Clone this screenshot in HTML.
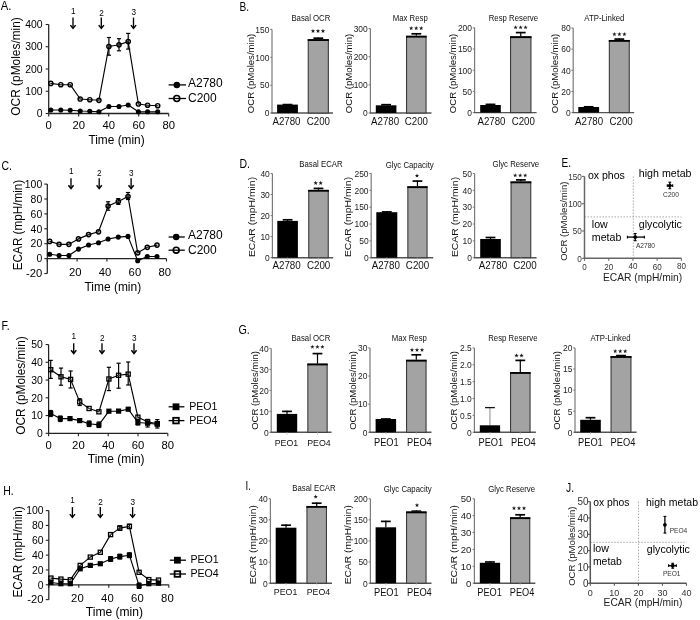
<!DOCTYPE html><html><head><meta charset="utf-8"><style>html,body{margin:0;padding:0;background:#fff;}svg{display:block;filter:blur(0.3px);font-family:"Liberation Sans",sans-serif;}</style></head><body>
<svg width="700" height="620" viewBox="0 0 700 620">
<rect width="700" height="620" fill="#fff"/>
<text x="0.8" y="9.6" font-size="12.2" text-anchor="start" fill="#000" textLength="10.6" lengthAdjust="spacingAndGlyphs">A.</text>
<line x1="48.7" y1="24.5" x2="48.7" y2="113.5" stroke="#222" stroke-width="1.25"/>
<line x1="45.7" y1="113.5" x2="48.7" y2="113.5" stroke="#222" stroke-width="1.1"/>
<text x="42.6" y="117.24" font-size="10.4" text-anchor="end" fill="#000" textLength="5.78" lengthAdjust="spacingAndGlyphs">0</text>
<line x1="45.7" y1="91.25" x2="48.7" y2="91.25" stroke="#222" stroke-width="1.1"/>
<text x="42.6" y="94.99" font-size="10.4" text-anchor="end" fill="#000" textLength="17.35" lengthAdjust="spacingAndGlyphs">100</text>
<line x1="45.7" y1="69" x2="48.7" y2="69" stroke="#222" stroke-width="1.1"/>
<text x="42.6" y="72.74" font-size="10.4" text-anchor="end" fill="#000" textLength="17.35" lengthAdjust="spacingAndGlyphs">200</text>
<line x1="45.7" y1="46.75" x2="48.7" y2="46.75" stroke="#222" stroke-width="1.1"/>
<text x="42.6" y="50.49" font-size="10.4" text-anchor="end" fill="#000" textLength="17.35" lengthAdjust="spacingAndGlyphs">300</text>
<line x1="45.7" y1="24.5" x2="48.7" y2="24.5" stroke="#222" stroke-width="1.1"/>
<text x="42.6" y="28.24" font-size="10.4" text-anchor="end" fill="#000" textLength="17.35" lengthAdjust="spacingAndGlyphs">400</text>
<line x1="48.7" y1="113.5" x2="168.7" y2="113.5" stroke="#222" stroke-width="1.3"/>
<line x1="48.7" y1="113.5" x2="48.7" y2="116.5" stroke="#222" stroke-width="1.1"/>
<text x="48.7" y="129.37" font-size="11.3" text-anchor="middle" fill="#000" textLength="6.28" lengthAdjust="spacingAndGlyphs">0</text>
<line x1="78.7" y1="113.5" x2="78.7" y2="116.5" stroke="#222" stroke-width="1.1"/>
<text x="78.7" y="129.37" font-size="11.3" text-anchor="middle" fill="#000" textLength="12.57" lengthAdjust="spacingAndGlyphs">20</text>
<line x1="108.7" y1="113.5" x2="108.7" y2="116.5" stroke="#222" stroke-width="1.1"/>
<text x="108.7" y="129.37" font-size="11.3" text-anchor="middle" fill="#000" textLength="12.57" lengthAdjust="spacingAndGlyphs">40</text>
<line x1="138.7" y1="113.5" x2="138.7" y2="116.5" stroke="#222" stroke-width="1.1"/>
<text x="138.7" y="129.37" font-size="11.3" text-anchor="middle" fill="#000" textLength="12.57" lengthAdjust="spacingAndGlyphs">60</text>
<line x1="168.7" y1="113.5" x2="168.7" y2="116.5" stroke="#222" stroke-width="1.1"/>
<text x="168.7" y="129.37" font-size="11.3" text-anchor="middle" fill="#000" textLength="12.57" lengthAdjust="spacingAndGlyphs">80</text>
<text x="88.4" y="143.7" font-size="12" text-anchor="start" fill="#000" textLength="56.3" lengthAdjust="spacingAndGlyphs">Time (min)</text>
<text transform="translate(15.5 66.4) rotate(-90)" x="0" y="4.32" font-size="12" text-anchor="middle" fill="#000" textLength="98.5" lengthAdjust="spacingAndGlyphs">OCR (pMoles/min)</text>
<text x="73.2" y="13.75" font-size="8.2" text-anchor="middle" fill="#000">1</text>
<line x1="73" y1="17.6" x2="73" y2="27.5" stroke="#000" stroke-width="1.35"/>
<path d="M70.4 25.1 L73 28.4 L75.6 25.1" fill="none" stroke="#000" stroke-width="1.45" stroke-linejoin="miter"/>
<text x="101.5" y="15.65" font-size="8.2" text-anchor="middle" fill="#000">2</text>
<line x1="101.3" y1="17.6" x2="101.3" y2="27.5" stroke="#000" stroke-width="1.35"/>
<path d="M98.7 25.1 L101.3 28.4 L103.9 25.1" fill="none" stroke="#000" stroke-width="1.45" stroke-linejoin="miter"/>
<text x="133.7" y="15.35" font-size="8.2" text-anchor="middle" fill="#000">3</text>
<line x1="133.5" y1="17.6" x2="133.5" y2="27.5" stroke="#000" stroke-width="1.35"/>
<path d="M130.9 25.1 L133.5 28.4 L136.1 25.1" fill="none" stroke="#000" stroke-width="1.45" stroke-linejoin="miter"/>
<polyline points="50.8,83.4 60.8,84.7 70.2,84.7 80.2,99 89.8,99.7 98.9,100.3 108.9,46.5 119,44.8 128.2,41.6 138.4,104 147.6,105.2 157.7,105.7" fill="none" stroke="#000" stroke-width="1.15" stroke-linejoin="round"/>
<line x1="108.9" y1="37.5" x2="108.9" y2="55.2" stroke="#000" stroke-width="1.2"/>
<line x1="106.8" y1="37.5" x2="111" y2="37.5" stroke="#000" stroke-width="1.2"/>
<line x1="106.8" y1="55.2" x2="111" y2="55.2" stroke="#000" stroke-width="1.2"/>
<line x1="119" y1="38.7" x2="119" y2="50.8" stroke="#000" stroke-width="1.2"/>
<line x1="116.9" y1="38.7" x2="121.1" y2="38.7" stroke="#000" stroke-width="1.2"/>
<line x1="116.9" y1="50.8" x2="121.1" y2="50.8" stroke="#000" stroke-width="1.2"/>
<line x1="128.2" y1="33.4" x2="128.2" y2="49.1" stroke="#000" stroke-width="1.2"/>
<line x1="126.1" y1="33.4" x2="130.3" y2="33.4" stroke="#000" stroke-width="1.2"/>
<line x1="126.1" y1="49.1" x2="130.3" y2="49.1" stroke="#000" stroke-width="1.2"/>
<polyline points="50.8,110 60.8,110 70.2,110.2 80.2,111 89.8,111.3 98.9,111.8 108.9,106.5 119,106.5 128.2,105 138.4,111.8 147.6,111.8 157.7,111.8" fill="none" stroke="#000" stroke-width="1.15" stroke-linejoin="round"/>
<circle cx="50.8" cy="83.4" r="2.1" fill="none" stroke="#000" stroke-width="1.45"/>
<line x1="49.9" y1="83.4" x2="51.7" y2="83.4" stroke="#444" stroke-width="0.9"/>
<circle cx="60.8" cy="84.7" r="2.1" fill="none" stroke="#000" stroke-width="1.45"/>
<line x1="59.9" y1="84.7" x2="61.7" y2="84.7" stroke="#444" stroke-width="0.9"/>
<circle cx="70.2" cy="84.7" r="2.1" fill="none" stroke="#000" stroke-width="1.45"/>
<line x1="69.3" y1="84.7" x2="71.1" y2="84.7" stroke="#444" stroke-width="0.9"/>
<circle cx="80.2" cy="99" r="2.1" fill="none" stroke="#000" stroke-width="1.45"/>
<line x1="79.3" y1="99" x2="81.1" y2="99" stroke="#444" stroke-width="0.9"/>
<circle cx="89.8" cy="99.7" r="2.1" fill="none" stroke="#000" stroke-width="1.45"/>
<line x1="88.9" y1="99.7" x2="90.7" y2="99.7" stroke="#444" stroke-width="0.9"/>
<circle cx="98.9" cy="100.3" r="2.1" fill="none" stroke="#000" stroke-width="1.45"/>
<line x1="98" y1="100.3" x2="99.8" y2="100.3" stroke="#444" stroke-width="0.9"/>
<circle cx="108.9" cy="46.5" r="2.1" fill="none" stroke="#000" stroke-width="1.45"/>
<line x1="108" y1="46.5" x2="109.8" y2="46.5" stroke="#444" stroke-width="0.9"/>
<circle cx="119" cy="44.8" r="2.1" fill="none" stroke="#000" stroke-width="1.45"/>
<line x1="118.1" y1="44.8" x2="119.9" y2="44.8" stroke="#444" stroke-width="0.9"/>
<circle cx="128.2" cy="41.6" r="2.1" fill="none" stroke="#000" stroke-width="1.45"/>
<line x1="127.3" y1="41.6" x2="129.1" y2="41.6" stroke="#444" stroke-width="0.9"/>
<circle cx="138.4" cy="104" r="2.1" fill="none" stroke="#000" stroke-width="1.45"/>
<line x1="137.5" y1="104" x2="139.3" y2="104" stroke="#444" stroke-width="0.9"/>
<circle cx="147.6" cy="105.2" r="2.1" fill="none" stroke="#000" stroke-width="1.45"/>
<line x1="146.7" y1="105.2" x2="148.5" y2="105.2" stroke="#444" stroke-width="0.9"/>
<circle cx="157.7" cy="105.7" r="2.1" fill="none" stroke="#000" stroke-width="1.45"/>
<line x1="156.8" y1="105.7" x2="158.6" y2="105.7" stroke="#444" stroke-width="0.9"/>
<circle cx="50.8" cy="110" r="2.55" fill="#000"/>
<circle cx="60.8" cy="110" r="2.55" fill="#000"/>
<circle cx="70.2" cy="110.2" r="2.55" fill="#000"/>
<circle cx="80.2" cy="111" r="2.55" fill="#000"/>
<circle cx="89.8" cy="111.3" r="2.55" fill="#000"/>
<circle cx="98.9" cy="111.8" r="2.55" fill="#000"/>
<circle cx="108.9" cy="106.5" r="2.55" fill="#000"/>
<circle cx="119" cy="106.5" r="2.55" fill="#000"/>
<circle cx="128.2" cy="105" r="2.55" fill="#000"/>
<circle cx="138.4" cy="111.8" r="2.55" fill="#000"/>
<circle cx="147.6" cy="111.8" r="2.55" fill="#000"/>
<circle cx="157.7" cy="111.8" r="2.55" fill="#000"/>
<line x1="168.6" y1="84.9" x2="186" y2="84.9" stroke="#000" stroke-width="1.3"/>
<circle cx="176.8" cy="84.9" r="3.25" fill="#000"/>
<line x1="168.6" y1="98.5" x2="186" y2="98.5" stroke="#000" stroke-width="1.3"/>
<circle cx="176.8" cy="98.5" r="2.95" fill="none" stroke="#000" stroke-width="1.6"/>
<text x="188" y="87.22" font-size="12" text-anchor="start" fill="#000" textLength="34.7" lengthAdjust="spacingAndGlyphs">A2780</text>
<text x="188" y="102.32" font-size="12" text-anchor="start" fill="#000" textLength="28.69" lengthAdjust="spacingAndGlyphs">C200</text>
<text x="1.5" y="169.5" font-size="12.2" text-anchor="start" fill="#000" textLength="10.5" lengthAdjust="spacingAndGlyphs">C.</text>
<line x1="47.3" y1="184.1" x2="47.3" y2="273.5" stroke="#222" stroke-width="1.25"/>
<line x1="44.3" y1="273.5" x2="47.3" y2="273.5" stroke="#222" stroke-width="1.1"/>
<text x="42.2" y="277.24" font-size="10.4" text-anchor="end" fill="#000" textLength="16.23" lengthAdjust="spacingAndGlyphs">-20</text>
<line x1="44.3" y1="258.6" x2="47.3" y2="258.6" stroke="#222" stroke-width="1.1"/>
<text x="42.2" y="262.34" font-size="10.4" text-anchor="end" fill="#000" textLength="5.78" lengthAdjust="spacingAndGlyphs">0</text>
<line x1="44.3" y1="243.7" x2="47.3" y2="243.7" stroke="#222" stroke-width="1.1"/>
<text x="42.2" y="247.44" font-size="10.4" text-anchor="end" fill="#000" textLength="11.57" lengthAdjust="spacingAndGlyphs">20</text>
<line x1="44.3" y1="228.8" x2="47.3" y2="228.8" stroke="#222" stroke-width="1.1"/>
<text x="42.2" y="232.54" font-size="10.4" text-anchor="end" fill="#000" textLength="11.57" lengthAdjust="spacingAndGlyphs">40</text>
<line x1="44.3" y1="213.9" x2="47.3" y2="213.9" stroke="#222" stroke-width="1.1"/>
<text x="42.2" y="217.64" font-size="10.4" text-anchor="end" fill="#000" textLength="11.57" lengthAdjust="spacingAndGlyphs">60</text>
<line x1="44.3" y1="199" x2="47.3" y2="199" stroke="#222" stroke-width="1.1"/>
<text x="42.2" y="202.74" font-size="10.4" text-anchor="end" fill="#000" textLength="11.57" lengthAdjust="spacingAndGlyphs">80</text>
<line x1="44.3" y1="184.1" x2="47.3" y2="184.1" stroke="#222" stroke-width="1.1"/>
<text x="42.2" y="187.84" font-size="10.4" text-anchor="end" fill="#000" textLength="17.35" lengthAdjust="spacingAndGlyphs">100</text>
<line x1="47.3" y1="258.6" x2="166.5" y2="258.6" stroke="#222" stroke-width="1.3"/>
<line x1="47.3" y1="258.6" x2="47.3" y2="261.6" stroke="#222" stroke-width="1.1"/>
<line x1="77.1" y1="258.6" x2="77.1" y2="261.6" stroke="#222" stroke-width="1.1"/>
<text x="75.3" y="276.47" font-size="11.3" text-anchor="middle" fill="#000" textLength="12.57" lengthAdjust="spacingAndGlyphs">20</text>
<line x1="106.9" y1="258.6" x2="106.9" y2="261.6" stroke="#222" stroke-width="1.1"/>
<text x="105.1" y="276.47" font-size="11.3" text-anchor="middle" fill="#000" textLength="12.57" lengthAdjust="spacingAndGlyphs">40</text>
<line x1="136.7" y1="258.6" x2="136.7" y2="261.6" stroke="#222" stroke-width="1.1"/>
<text x="134.9" y="276.47" font-size="11.3" text-anchor="middle" fill="#000" textLength="12.57" lengthAdjust="spacingAndGlyphs">60</text>
<line x1="166.5" y1="258.6" x2="166.5" y2="261.6" stroke="#222" stroke-width="1.1"/>
<text x="164.7" y="276.47" font-size="11.3" text-anchor="middle" fill="#000" textLength="12.57" lengthAdjust="spacingAndGlyphs">80</text>
<text x="84.4" y="290.6" font-size="12" text-anchor="start" fill="#000" textLength="56.8" lengthAdjust="spacingAndGlyphs">Time (min)</text>
<text transform="translate(17.3 225) rotate(-90)" x="0" y="4.32" font-size="12" text-anchor="middle" fill="#000" textLength="90.4" lengthAdjust="spacingAndGlyphs">ECAR (mpH/min)</text>
<text x="71.2" y="174.35" font-size="8.2" text-anchor="middle" fill="#000">1</text>
<line x1="71" y1="178.3" x2="71" y2="187.6" stroke="#000" stroke-width="1.35"/>
<path d="M68.4 185.2 L71 188.5 L73.6 185.2" fill="none" stroke="#000" stroke-width="1.45" stroke-linejoin="miter"/>
<text x="99.4" y="176.45" font-size="8.2" text-anchor="middle" fill="#000">2</text>
<line x1="99.2" y1="178.3" x2="99.2" y2="187.6" stroke="#000" stroke-width="1.35"/>
<path d="M96.6 185.2 L99.2 188.5 L101.8 185.2" fill="none" stroke="#000" stroke-width="1.45" stroke-linejoin="miter"/>
<text x="131.3" y="176.05" font-size="8.2" text-anchor="middle" fill="#000">3</text>
<line x1="131.1" y1="178.3" x2="131.1" y2="187.6" stroke="#000" stroke-width="1.35"/>
<path d="M128.5 185.2 L131.1 188.5 L133.7 185.2" fill="none" stroke="#000" stroke-width="1.45" stroke-linejoin="miter"/>
<polyline points="49.7,241.4 59.1,244.3 68.9,244.3 78.5,238.9 88.6,234.6 98.5,231.8 108.1,206.1 118.3,201.5 128,196.5 137.7,252.8 147.3,247.3 157,245.1" fill="none" stroke="#000" stroke-width="1.15" stroke-linejoin="round"/>
<line x1="108.1" y1="201.8" x2="108.1" y2="210.2" stroke="#000" stroke-width="1.2"/>
<line x1="106" y1="201.8" x2="110.2" y2="201.8" stroke="#000" stroke-width="1.2"/>
<line x1="106" y1="210.2" x2="110.2" y2="210.2" stroke="#000" stroke-width="1.2"/>
<line x1="118.3" y1="198.6" x2="118.3" y2="204.4" stroke="#000" stroke-width="1.2"/>
<line x1="116.2" y1="198.6" x2="120.4" y2="198.6" stroke="#000" stroke-width="1.2"/>
<line x1="116.2" y1="204.4" x2="120.4" y2="204.4" stroke="#000" stroke-width="1.2"/>
<line x1="128" y1="192.5" x2="128" y2="199.5" stroke="#000" stroke-width="1.2"/>
<line x1="125.9" y1="192.5" x2="130.1" y2="192.5" stroke="#000" stroke-width="1.2"/>
<line x1="125.9" y1="199.5" x2="130.1" y2="199.5" stroke="#000" stroke-width="1.2"/>
<polyline points="49.7,254.3 59.1,255.5 68.9,255.5 78.5,249.1 88.6,245 98.5,242.7 108.1,239 118.3,237.1 128,236.4 137.7,260.8 147.3,256.5 157,256.5" fill="none" stroke="#000" stroke-width="1.15" stroke-linejoin="round"/>
<circle cx="49.7" cy="241.4" r="2.1" fill="none" stroke="#000" stroke-width="1.45"/>
<line x1="48.8" y1="241.4" x2="50.6" y2="241.4" stroke="#444" stroke-width="0.9"/>
<circle cx="59.1" cy="244.3" r="2.1" fill="none" stroke="#000" stroke-width="1.45"/>
<line x1="58.2" y1="244.3" x2="60" y2="244.3" stroke="#444" stroke-width="0.9"/>
<circle cx="68.9" cy="244.3" r="2.1" fill="none" stroke="#000" stroke-width="1.45"/>
<line x1="68" y1="244.3" x2="69.8" y2="244.3" stroke="#444" stroke-width="0.9"/>
<circle cx="78.5" cy="238.9" r="2.1" fill="none" stroke="#000" stroke-width="1.45"/>
<line x1="77.6" y1="238.9" x2="79.4" y2="238.9" stroke="#444" stroke-width="0.9"/>
<circle cx="88.6" cy="234.6" r="2.1" fill="none" stroke="#000" stroke-width="1.45"/>
<line x1="87.7" y1="234.6" x2="89.5" y2="234.6" stroke="#444" stroke-width="0.9"/>
<circle cx="98.5" cy="231.8" r="2.1" fill="none" stroke="#000" stroke-width="1.45"/>
<line x1="97.6" y1="231.8" x2="99.4" y2="231.8" stroke="#444" stroke-width="0.9"/>
<circle cx="108.1" cy="206.1" r="2.1" fill="none" stroke="#000" stroke-width="1.45"/>
<line x1="107.2" y1="206.1" x2="109" y2="206.1" stroke="#444" stroke-width="0.9"/>
<circle cx="118.3" cy="201.5" r="2.1" fill="none" stroke="#000" stroke-width="1.45"/>
<line x1="117.4" y1="201.5" x2="119.2" y2="201.5" stroke="#444" stroke-width="0.9"/>
<circle cx="128" cy="196.5" r="2.1" fill="none" stroke="#000" stroke-width="1.45"/>
<line x1="127.1" y1="196.5" x2="128.9" y2="196.5" stroke="#444" stroke-width="0.9"/>
<circle cx="137.7" cy="252.8" r="2.1" fill="none" stroke="#000" stroke-width="1.45"/>
<line x1="136.8" y1="252.8" x2="138.6" y2="252.8" stroke="#444" stroke-width="0.9"/>
<circle cx="147.3" cy="247.3" r="2.1" fill="none" stroke="#000" stroke-width="1.45"/>
<line x1="146.4" y1="247.3" x2="148.2" y2="247.3" stroke="#444" stroke-width="0.9"/>
<circle cx="157" cy="245.1" r="2.1" fill="none" stroke="#000" stroke-width="1.45"/>
<line x1="156.1" y1="245.1" x2="157.9" y2="245.1" stroke="#444" stroke-width="0.9"/>
<circle cx="49.7" cy="254.3" r="2.55" fill="#000"/>
<circle cx="59.1" cy="255.5" r="2.55" fill="#000"/>
<circle cx="68.9" cy="255.5" r="2.55" fill="#000"/>
<circle cx="78.5" cy="249.1" r="2.55" fill="#000"/>
<circle cx="88.6" cy="245" r="2.55" fill="#000"/>
<circle cx="98.5" cy="242.7" r="2.55" fill="#000"/>
<circle cx="108.1" cy="239" r="2.55" fill="#000"/>
<circle cx="118.3" cy="237.1" r="2.55" fill="#000"/>
<circle cx="128" cy="236.4" r="2.55" fill="#000"/>
<circle cx="137.7" cy="260.8" r="2.55" fill="#000"/>
<circle cx="147.3" cy="256.5" r="2.55" fill="#000"/>
<circle cx="157" cy="256.5" r="2.55" fill="#000"/>
<line x1="168.6" y1="237" x2="184.8" y2="237" stroke="#000" stroke-width="1.3"/>
<circle cx="176.2" cy="237" r="3.25" fill="#000"/>
<line x1="168.6" y1="250.2" x2="184.8" y2="250.2" stroke="#000" stroke-width="1.3"/>
<circle cx="176.2" cy="250.2" r="2.95" fill="none" stroke="#000" stroke-width="1.6"/>
<text x="188" y="239.32" font-size="12" text-anchor="start" fill="#000" textLength="34.7" lengthAdjust="spacingAndGlyphs">A2780</text>
<text x="188" y="254.32" font-size="12" text-anchor="start" fill="#000" textLength="28.69" lengthAdjust="spacingAndGlyphs">C200</text>
<text x="1.5" y="329.7" font-size="12.2" text-anchor="start" fill="#000" textLength="8.3" lengthAdjust="spacingAndGlyphs">F.</text>
<line x1="48.6" y1="344.55" x2="48.6" y2="433.3" stroke="#222" stroke-width="1.25"/>
<line x1="45.6" y1="433.3" x2="48.6" y2="433.3" stroke="#222" stroke-width="1.1"/>
<text x="42.8" y="437.04" font-size="10.4" text-anchor="end" fill="#000" textLength="5.78" lengthAdjust="spacingAndGlyphs">0</text>
<line x1="45.6" y1="415.55" x2="48.6" y2="415.55" stroke="#222" stroke-width="1.1"/>
<text x="42.8" y="419.29" font-size="10.4" text-anchor="end" fill="#000" textLength="11.57" lengthAdjust="spacingAndGlyphs">10</text>
<line x1="45.6" y1="397.8" x2="48.6" y2="397.8" stroke="#222" stroke-width="1.1"/>
<text x="42.8" y="401.54" font-size="10.4" text-anchor="end" fill="#000" textLength="11.57" lengthAdjust="spacingAndGlyphs">20</text>
<line x1="45.6" y1="380.05" x2="48.6" y2="380.05" stroke="#222" stroke-width="1.1"/>
<text x="42.8" y="383.79" font-size="10.4" text-anchor="end" fill="#000" textLength="11.57" lengthAdjust="spacingAndGlyphs">30</text>
<line x1="45.6" y1="362.3" x2="48.6" y2="362.3" stroke="#222" stroke-width="1.1"/>
<text x="42.8" y="366.04" font-size="10.4" text-anchor="end" fill="#000" textLength="11.57" lengthAdjust="spacingAndGlyphs">40</text>
<line x1="45.6" y1="344.55" x2="48.6" y2="344.55" stroke="#222" stroke-width="1.1"/>
<text x="42.8" y="348.29" font-size="10.4" text-anchor="end" fill="#000" textLength="11.57" lengthAdjust="spacingAndGlyphs">50</text>
<line x1="48.6" y1="433.3" x2="167.8" y2="433.3" stroke="#222" stroke-width="1.3"/>
<line x1="48.6" y1="433.3" x2="48.6" y2="436.3" stroke="#222" stroke-width="1.1"/>
<text x="48.6" y="449.07" font-size="11.3" text-anchor="middle" fill="#000" textLength="6.28" lengthAdjust="spacingAndGlyphs">0</text>
<line x1="78.4" y1="433.3" x2="78.4" y2="436.3" stroke="#222" stroke-width="1.1"/>
<text x="78.4" y="449.07" font-size="11.3" text-anchor="middle" fill="#000" textLength="12.57" lengthAdjust="spacingAndGlyphs">20</text>
<line x1="108.2" y1="433.3" x2="108.2" y2="436.3" stroke="#222" stroke-width="1.1"/>
<text x="108.2" y="449.07" font-size="11.3" text-anchor="middle" fill="#000" textLength="12.57" lengthAdjust="spacingAndGlyphs">40</text>
<line x1="138" y1="433.3" x2="138" y2="436.3" stroke="#222" stroke-width="1.1"/>
<text x="138" y="449.07" font-size="11.3" text-anchor="middle" fill="#000" textLength="12.57" lengthAdjust="spacingAndGlyphs">60</text>
<line x1="167.8" y1="433.3" x2="167.8" y2="436.3" stroke="#222" stroke-width="1.1"/>
<text x="167.8" y="449.07" font-size="11.3" text-anchor="middle" fill="#000" textLength="12.57" lengthAdjust="spacingAndGlyphs">80</text>
<text x="87.8" y="463.3" font-size="12" text-anchor="start" fill="#000" textLength="56.8" lengthAdjust="spacingAndGlyphs">Time (min)</text>
<text transform="translate(20.3 385.5) rotate(-90)" x="0" y="4.32" font-size="12" text-anchor="middle" fill="#000" textLength="98.5" lengthAdjust="spacingAndGlyphs">OCR (pMoles/min)</text>
<text x="73.9" y="339.15" font-size="8.2" text-anchor="middle" fill="#000">1</text>
<line x1="73.7" y1="343.3" x2="73.7" y2="352.6" stroke="#000" stroke-width="1.35"/>
<path d="M71.1 350.2 L73.7 353.5 L76.3 350.2" fill="none" stroke="#000" stroke-width="1.45" stroke-linejoin="miter"/>
<text x="102.2" y="341.45" font-size="8.2" text-anchor="middle" fill="#000">2</text>
<line x1="102" y1="343.3" x2="102" y2="352.6" stroke="#000" stroke-width="1.35"/>
<path d="M99.4 350.2 L102 353.5 L104.6 350.2" fill="none" stroke="#000" stroke-width="1.45" stroke-linejoin="miter"/>
<text x="134.2" y="341.05" font-size="8.2" text-anchor="middle" fill="#000">3</text>
<line x1="134" y1="343.3" x2="134" y2="352.6" stroke="#000" stroke-width="1.35"/>
<path d="M131.4 350.2 L134 353.5 L136.6 350.2" fill="none" stroke="#000" stroke-width="1.45" stroke-linejoin="miter"/>
<polyline points="50.7,369.7 61,376.8 70.6,379.4 79.7,401.9 89.1,408.5 98.9,411.8 108.9,379 118.6,375.3 128.2,374.1 137.9,417.2 147.6,421.8 157.3,423.7" fill="none" stroke="#000" stroke-width="1.15" stroke-linejoin="round"/>
<line x1="50.7" y1="360.4" x2="50.7" y2="378.4" stroke="#000" stroke-width="1.2"/>
<line x1="48.6" y1="360.4" x2="52.8" y2="360.4" stroke="#000" stroke-width="1.2"/>
<line x1="48.6" y1="378.4" x2="52.8" y2="378.4" stroke="#000" stroke-width="1.2"/>
<line x1="61" y1="368.1" x2="61" y2="385.2" stroke="#000" stroke-width="1.2"/>
<line x1="58.9" y1="368.1" x2="63.1" y2="368.1" stroke="#000" stroke-width="1.2"/>
<line x1="58.9" y1="385.2" x2="63.1" y2="385.2" stroke="#000" stroke-width="1.2"/>
<line x1="70.6" y1="371" x2="70.6" y2="388" stroke="#000" stroke-width="1.2"/>
<line x1="68.5" y1="371" x2="72.7" y2="371" stroke="#000" stroke-width="1.2"/>
<line x1="68.5" y1="388" x2="72.7" y2="388" stroke="#000" stroke-width="1.2"/>
<line x1="79.7" y1="398.7" x2="79.7" y2="405.5" stroke="#000" stroke-width="1.2"/>
<line x1="77.6" y1="398.7" x2="81.8" y2="398.7" stroke="#000" stroke-width="1.2"/>
<line x1="77.6" y1="405.5" x2="81.8" y2="405.5" stroke="#000" stroke-width="1.2"/>
<line x1="108.9" y1="367.3" x2="108.9" y2="390.6" stroke="#000" stroke-width="1.2"/>
<line x1="106.8" y1="367.3" x2="111" y2="367.3" stroke="#000" stroke-width="1.2"/>
<line x1="106.8" y1="390.6" x2="111" y2="390.6" stroke="#000" stroke-width="1.2"/>
<line x1="118.6" y1="363.2" x2="118.6" y2="388.2" stroke="#000" stroke-width="1.2"/>
<line x1="116.5" y1="363.2" x2="120.7" y2="363.2" stroke="#000" stroke-width="1.2"/>
<line x1="116.5" y1="388.2" x2="120.7" y2="388.2" stroke="#000" stroke-width="1.2"/>
<line x1="128.2" y1="362" x2="128.2" y2="385" stroke="#000" stroke-width="1.2"/>
<line x1="126.1" y1="362" x2="130.3" y2="362" stroke="#000" stroke-width="1.2"/>
<line x1="126.1" y1="385" x2="130.3" y2="385" stroke="#000" stroke-width="1.2"/>
<polyline points="50.7,413.4 60.3,418.6 70,418.6 79.7,420.6 89.1,423.7 98.9,424.9 108.9,411.2 118.6,411.1 128.2,409.2 137.9,422.5 147.6,423.2 157.3,424.2" fill="none" stroke="#000" stroke-width="1.15" stroke-linejoin="round"/>
<line x1="50.7" y1="410.5" x2="50.7" y2="416.5" stroke="#000" stroke-width="1.2"/>
<line x1="48.6" y1="410.5" x2="52.8" y2="410.5" stroke="#000" stroke-width="1.2"/>
<line x1="48.6" y1="416.5" x2="52.8" y2="416.5" stroke="#000" stroke-width="1.2"/>
<line x1="60.3" y1="416" x2="60.3" y2="421.5" stroke="#000" stroke-width="1.2"/>
<line x1="58.2" y1="416" x2="62.4" y2="416" stroke="#000" stroke-width="1.2"/>
<line x1="58.2" y1="421.5" x2="62.4" y2="421.5" stroke="#000" stroke-width="1.2"/>
<line x1="89.1" y1="421" x2="89.1" y2="426.5" stroke="#000" stroke-width="1.2"/>
<line x1="87" y1="421" x2="91.2" y2="421" stroke="#000" stroke-width="1.2"/>
<line x1="87" y1="426.5" x2="91.2" y2="426.5" stroke="#000" stroke-width="1.2"/>
<line x1="98.9" y1="422" x2="98.9" y2="427.5" stroke="#000" stroke-width="1.2"/>
<line x1="96.8" y1="422" x2="101" y2="422" stroke="#000" stroke-width="1.2"/>
<line x1="96.8" y1="427.5" x2="101" y2="427.5" stroke="#000" stroke-width="1.2"/>
<line x1="137.9" y1="420" x2="137.9" y2="425" stroke="#000" stroke-width="1.2"/>
<line x1="135.8" y1="420" x2="140" y2="420" stroke="#000" stroke-width="1.2"/>
<line x1="135.8" y1="425" x2="140" y2="425" stroke="#000" stroke-width="1.2"/>
<line x1="147.6" y1="419.4" x2="147.6" y2="427" stroke="#000" stroke-width="1.2"/>
<line x1="145.5" y1="419.4" x2="149.7" y2="419.4" stroke="#000" stroke-width="1.2"/>
<line x1="145.5" y1="427" x2="149.7" y2="427" stroke="#000" stroke-width="1.2"/>
<line x1="157.3" y1="419.6" x2="157.3" y2="428" stroke="#000" stroke-width="1.2"/>
<line x1="155.2" y1="419.6" x2="159.4" y2="419.6" stroke="#000" stroke-width="1.2"/>
<line x1="155.2" y1="428" x2="159.4" y2="428" stroke="#000" stroke-width="1.2"/>
<rect x="48.65" y="367.65" width="4.1" height="4.1" fill="none" stroke="#000" stroke-width="1.3"/>
<line x1="49.9" y1="369.7" x2="51.5" y2="369.7" stroke="#555" stroke-width="0.9"/>
<rect x="58.95" y="374.75" width="4.1" height="4.1" fill="none" stroke="#000" stroke-width="1.3"/>
<line x1="60.2" y1="376.8" x2="61.8" y2="376.8" stroke="#555" stroke-width="0.9"/>
<rect x="68.55" y="377.35" width="4.1" height="4.1" fill="none" stroke="#000" stroke-width="1.3"/>
<line x1="69.8" y1="379.4" x2="71.4" y2="379.4" stroke="#555" stroke-width="0.9"/>
<rect x="77.65" y="399.85" width="4.1" height="4.1" fill="none" stroke="#000" stroke-width="1.3"/>
<line x1="78.9" y1="401.9" x2="80.5" y2="401.9" stroke="#555" stroke-width="0.9"/>
<rect x="87.05" y="406.45" width="4.1" height="4.1" fill="none" stroke="#000" stroke-width="1.3"/>
<line x1="88.3" y1="408.5" x2="89.9" y2="408.5" stroke="#555" stroke-width="0.9"/>
<rect x="96.85" y="409.75" width="4.1" height="4.1" fill="none" stroke="#000" stroke-width="1.3"/>
<line x1="98.1" y1="411.8" x2="99.7" y2="411.8" stroke="#555" stroke-width="0.9"/>
<rect x="106.85" y="376.95" width="4.1" height="4.1" fill="none" stroke="#000" stroke-width="1.3"/>
<line x1="108.1" y1="379" x2="109.7" y2="379" stroke="#555" stroke-width="0.9"/>
<rect x="116.55" y="373.25" width="4.1" height="4.1" fill="none" stroke="#000" stroke-width="1.3"/>
<line x1="117.8" y1="375.3" x2="119.4" y2="375.3" stroke="#555" stroke-width="0.9"/>
<rect x="126.15" y="372.05" width="4.1" height="4.1" fill="none" stroke="#000" stroke-width="1.3"/>
<line x1="127.4" y1="374.1" x2="129" y2="374.1" stroke="#555" stroke-width="0.9"/>
<rect x="135.85" y="415.15" width="4.1" height="4.1" fill="none" stroke="#000" stroke-width="1.3"/>
<line x1="137.1" y1="417.2" x2="138.7" y2="417.2" stroke="#555" stroke-width="0.9"/>
<rect x="145.55" y="419.75" width="4.1" height="4.1" fill="none" stroke="#000" stroke-width="1.3"/>
<line x1="146.8" y1="421.8" x2="148.4" y2="421.8" stroke="#555" stroke-width="0.9"/>
<rect x="155.25" y="421.65" width="4.1" height="4.1" fill="none" stroke="#000" stroke-width="1.3"/>
<line x1="156.5" y1="423.7" x2="158.1" y2="423.7" stroke="#555" stroke-width="0.9"/>
<rect x="48.1" y="410.8" width="5.2" height="5.2" fill="#000"/>
<rect x="57.7" y="416" width="5.2" height="5.2" fill="#000"/>
<rect x="67.4" y="416" width="5.2" height="5.2" fill="#000"/>
<rect x="77.1" y="418" width="5.2" height="5.2" fill="#000"/>
<rect x="86.5" y="421.1" width="5.2" height="5.2" fill="#000"/>
<rect x="96.3" y="422.3" width="5.2" height="5.2" fill="#000"/>
<rect x="106.3" y="408.6" width="5.2" height="5.2" fill="#000"/>
<rect x="116" y="408.5" width="5.2" height="5.2" fill="#000"/>
<rect x="125.6" y="406.6" width="5.2" height="5.2" fill="#000"/>
<rect x="135.3" y="419.9" width="5.2" height="5.2" fill="#000"/>
<rect x="145" y="420.6" width="5.2" height="5.2" fill="#000"/>
<rect x="154.7" y="421.6" width="5.2" height="5.2" fill="#000"/>
<line x1="168.6" y1="406.8" x2="184.4" y2="406.8" stroke="#000" stroke-width="1.3"/>
<rect x="172.6" y="403.4" width="6.8" height="6.8" fill="#000"/>
<line x1="168.6" y1="420.6" x2="184.4" y2="420.6" stroke="#000" stroke-width="1.3"/>
<rect x="173.2" y="417.8" width="5.6" height="5.6" fill="none" stroke="#000" stroke-width="1.8"/>
<text x="189.2" y="410.02" font-size="10.6" text-anchor="start" fill="#000" textLength="28.28" lengthAdjust="spacingAndGlyphs">PEO1</text>
<text x="189.2" y="424.02" font-size="10.6" text-anchor="start" fill="#000" textLength="28.28" lengthAdjust="spacingAndGlyphs">PEO4</text>
<text x="3.2" y="495.4" font-size="12.2" text-anchor="start" fill="#000" textLength="10.5" lengthAdjust="spacingAndGlyphs">H.</text>
<line x1="48.8" y1="510.6" x2="48.8" y2="599.64" stroke="#222" stroke-width="1.25"/>
<line x1="45.8" y1="599.64" x2="48.8" y2="599.64" stroke="#222" stroke-width="1.1"/>
<text x="43.6" y="603.38" font-size="10.4" text-anchor="end" fill="#000" textLength="16.23" lengthAdjust="spacingAndGlyphs">-20</text>
<line x1="45.8" y1="584.8" x2="48.8" y2="584.8" stroke="#222" stroke-width="1.1"/>
<text x="43.6" y="588.54" font-size="10.4" text-anchor="end" fill="#000" textLength="5.78" lengthAdjust="spacingAndGlyphs">0</text>
<line x1="45.8" y1="569.96" x2="48.8" y2="569.96" stroke="#222" stroke-width="1.1"/>
<text x="43.6" y="573.7" font-size="10.4" text-anchor="end" fill="#000" textLength="11.57" lengthAdjust="spacingAndGlyphs">20</text>
<line x1="45.8" y1="555.12" x2="48.8" y2="555.12" stroke="#222" stroke-width="1.1"/>
<text x="43.6" y="558.86" font-size="10.4" text-anchor="end" fill="#000" textLength="11.57" lengthAdjust="spacingAndGlyphs">40</text>
<line x1="45.8" y1="540.28" x2="48.8" y2="540.28" stroke="#222" stroke-width="1.1"/>
<text x="43.6" y="544.02" font-size="10.4" text-anchor="end" fill="#000" textLength="11.57" lengthAdjust="spacingAndGlyphs">60</text>
<line x1="45.8" y1="525.44" x2="48.8" y2="525.44" stroke="#222" stroke-width="1.1"/>
<text x="43.6" y="529.18" font-size="10.4" text-anchor="end" fill="#000" textLength="11.57" lengthAdjust="spacingAndGlyphs">80</text>
<line x1="45.8" y1="510.6" x2="48.8" y2="510.6" stroke="#222" stroke-width="1.1"/>
<text x="43.6" y="514.34" font-size="10.4" text-anchor="end" fill="#000" textLength="17.35" lengthAdjust="spacingAndGlyphs">100</text>
<line x1="48.8" y1="584.8" x2="168.8" y2="584.8" stroke="#222" stroke-width="1.3"/>
<line x1="48.8" y1="584.8" x2="48.8" y2="587.8" stroke="#222" stroke-width="1.1"/>
<line x1="78.8" y1="584.8" x2="78.8" y2="587.8" stroke="#222" stroke-width="1.1"/>
<text x="77.4" y="602.07" font-size="11.3" text-anchor="middle" fill="#000" textLength="12.57" lengthAdjust="spacingAndGlyphs">20</text>
<line x1="108.8" y1="584.8" x2="108.8" y2="587.8" stroke="#222" stroke-width="1.1"/>
<text x="107.4" y="602.07" font-size="11.3" text-anchor="middle" fill="#000" textLength="12.57" lengthAdjust="spacingAndGlyphs">40</text>
<line x1="138.8" y1="584.8" x2="138.8" y2="587.8" stroke="#222" stroke-width="1.1"/>
<text x="137.4" y="602.07" font-size="11.3" text-anchor="middle" fill="#000" textLength="12.57" lengthAdjust="spacingAndGlyphs">60</text>
<line x1="168.8" y1="584.8" x2="168.8" y2="587.8" stroke="#222" stroke-width="1.1"/>
<text x="167.4" y="602.07" font-size="11.3" text-anchor="middle" fill="#000" textLength="12.57" lengthAdjust="spacingAndGlyphs">80</text>
<text x="85.8" y="615.6" font-size="12" text-anchor="start" fill="#000" textLength="57.2" lengthAdjust="spacingAndGlyphs">Time (min)</text>
<text transform="translate(18 551.9) rotate(-90)" x="0" y="4.32" font-size="12" text-anchor="middle" fill="#000" textLength="91.4" lengthAdjust="spacingAndGlyphs">ECAR (mpH/min)</text>
<text x="72.6" y="503.05" font-size="8.2" text-anchor="middle" fill="#000">1</text>
<line x1="72.4" y1="507.1" x2="72.4" y2="516.5" stroke="#000" stroke-width="1.35"/>
<path d="M69.8 514.1 L72.4 517.4 L75 514.1" fill="none" stroke="#000" stroke-width="1.45" stroke-linejoin="miter"/>
<text x="100.5" y="504.95" font-size="8.2" text-anchor="middle" fill="#000">2</text>
<line x1="100.3" y1="507.1" x2="100.3" y2="516.5" stroke="#000" stroke-width="1.35"/>
<path d="M97.7 514.1 L100.3 517.4 L102.9 514.1" fill="none" stroke="#000" stroke-width="1.45" stroke-linejoin="miter"/>
<text x="132.8" y="504.65" font-size="8.2" text-anchor="middle" fill="#000">3</text>
<line x1="132.6" y1="507.1" x2="132.6" y2="516.5" stroke="#000" stroke-width="1.35"/>
<path d="M130 514.1 L132.6 517.4 L135.2 514.1" fill="none" stroke="#000" stroke-width="1.45" stroke-linejoin="miter"/>
<polyline points="50.9,578.1 60.9,579.1 70.3,579.8 80.2,565.4 90.3,557.1 100.3,552.3 110.6,534.6 119.8,528.1 129.4,526.4 139.1,572.3 148.8,579.6 158.5,580.1" fill="none" stroke="#000" stroke-width="1.15" stroke-linejoin="round"/>
<line x1="119.8" y1="525.8" x2="119.8" y2="530.4" stroke="#000" stroke-width="1.2"/>
<line x1="117.7" y1="525.8" x2="121.9" y2="525.8" stroke="#000" stroke-width="1.2"/>
<line x1="117.7" y1="530.4" x2="121.9" y2="530.4" stroke="#000" stroke-width="1.2"/>
<line x1="129.4" y1="524.2" x2="129.4" y2="528.6" stroke="#000" stroke-width="1.2"/>
<line x1="127.3" y1="524.2" x2="131.5" y2="524.2" stroke="#000" stroke-width="1.2"/>
<line x1="127.3" y1="528.6" x2="131.5" y2="528.6" stroke="#000" stroke-width="1.2"/>
<polyline points="50.9,582.5 60.9,583.7 70.3,583.7 80.2,568.8 90.3,565.4 100.3,563.7 110.6,559 119.8,556.6 129.4,555.2 139.1,585.7 148.8,583.7 158.5,583.2" fill="none" stroke="#000" stroke-width="1.15" stroke-linejoin="round"/>
<line x1="110.6" y1="556.6" x2="110.6" y2="561.4" stroke="#000" stroke-width="1.2"/>
<line x1="108.5" y1="556.6" x2="112.7" y2="556.6" stroke="#000" stroke-width="1.2"/>
<line x1="108.5" y1="561.4" x2="112.7" y2="561.4" stroke="#000" stroke-width="1.2"/>
<line x1="119.8" y1="554.2" x2="119.8" y2="559" stroke="#000" stroke-width="1.2"/>
<line x1="117.7" y1="554.2" x2="121.9" y2="554.2" stroke="#000" stroke-width="1.2"/>
<line x1="117.7" y1="559" x2="121.9" y2="559" stroke="#000" stroke-width="1.2"/>
<line x1="129.4" y1="552.8" x2="129.4" y2="557.6" stroke="#000" stroke-width="1.2"/>
<line x1="127.3" y1="552.8" x2="131.5" y2="552.8" stroke="#000" stroke-width="1.2"/>
<line x1="127.3" y1="557.6" x2="131.5" y2="557.6" stroke="#000" stroke-width="1.2"/>
<line x1="139.1" y1="583" x2="139.1" y2="588.4" stroke="#000" stroke-width="1.2"/>
<line x1="137" y1="583" x2="141.2" y2="583" stroke="#000" stroke-width="1.2"/>
<line x1="137" y1="588.4" x2="141.2" y2="588.4" stroke="#000" stroke-width="1.2"/>
<rect x="48.85" y="576.05" width="4.1" height="4.1" fill="none" stroke="#000" stroke-width="1.3"/>
<line x1="50.1" y1="578.1" x2="51.7" y2="578.1" stroke="#555" stroke-width="0.9"/>
<rect x="58.85" y="577.05" width="4.1" height="4.1" fill="none" stroke="#000" stroke-width="1.3"/>
<line x1="60.1" y1="579.1" x2="61.7" y2="579.1" stroke="#555" stroke-width="0.9"/>
<rect x="68.25" y="577.75" width="4.1" height="4.1" fill="none" stroke="#000" stroke-width="1.3"/>
<line x1="69.5" y1="579.8" x2="71.1" y2="579.8" stroke="#555" stroke-width="0.9"/>
<rect x="78.15" y="563.35" width="4.1" height="4.1" fill="none" stroke="#000" stroke-width="1.3"/>
<line x1="79.4" y1="565.4" x2="81" y2="565.4" stroke="#555" stroke-width="0.9"/>
<rect x="88.25" y="555.05" width="4.1" height="4.1" fill="none" stroke="#000" stroke-width="1.3"/>
<line x1="89.5" y1="557.1" x2="91.1" y2="557.1" stroke="#555" stroke-width="0.9"/>
<rect x="98.25" y="550.25" width="4.1" height="4.1" fill="none" stroke="#000" stroke-width="1.3"/>
<line x1="99.5" y1="552.3" x2="101.1" y2="552.3" stroke="#555" stroke-width="0.9"/>
<rect x="108.55" y="532.55" width="4.1" height="4.1" fill="none" stroke="#000" stroke-width="1.3"/>
<line x1="109.8" y1="534.6" x2="111.4" y2="534.6" stroke="#555" stroke-width="0.9"/>
<rect x="117.75" y="526.05" width="4.1" height="4.1" fill="none" stroke="#000" stroke-width="1.3"/>
<line x1="119" y1="528.1" x2="120.6" y2="528.1" stroke="#555" stroke-width="0.9"/>
<rect x="127.35" y="524.35" width="4.1" height="4.1" fill="none" stroke="#000" stroke-width="1.3"/>
<line x1="128.6" y1="526.4" x2="130.2" y2="526.4" stroke="#555" stroke-width="0.9"/>
<rect x="137.05" y="570.25" width="4.1" height="4.1" fill="none" stroke="#000" stroke-width="1.3"/>
<line x1="138.3" y1="572.3" x2="139.9" y2="572.3" stroke="#555" stroke-width="0.9"/>
<rect x="146.75" y="577.55" width="4.1" height="4.1" fill="none" stroke="#000" stroke-width="1.3"/>
<line x1="148" y1="579.6" x2="149.6" y2="579.6" stroke="#555" stroke-width="0.9"/>
<rect x="156.45" y="578.05" width="4.1" height="4.1" fill="none" stroke="#000" stroke-width="1.3"/>
<line x1="157.7" y1="580.1" x2="159.3" y2="580.1" stroke="#555" stroke-width="0.9"/>
<rect x="48.3" y="579.9" width="5.2" height="5.2" fill="#000"/>
<rect x="58.3" y="581.1" width="5.2" height="5.2" fill="#000"/>
<rect x="67.7" y="581.1" width="5.2" height="5.2" fill="#000"/>
<rect x="77.6" y="566.2" width="5.2" height="5.2" fill="#000"/>
<rect x="87.7" y="562.8" width="5.2" height="5.2" fill="#000"/>
<rect x="97.7" y="561.1" width="5.2" height="5.2" fill="#000"/>
<rect x="108" y="556.4" width="5.2" height="5.2" fill="#000"/>
<rect x="117.2" y="554" width="5.2" height="5.2" fill="#000"/>
<rect x="126.8" y="552.6" width="5.2" height="5.2" fill="#000"/>
<rect x="136.5" y="583.1" width="5.2" height="5.2" fill="#000"/>
<rect x="146.2" y="581.1" width="5.2" height="5.2" fill="#000"/>
<rect x="155.9" y="580.6" width="5.2" height="5.2" fill="#000"/>
<line x1="169.8" y1="560.2" x2="186" y2="560.2" stroke="#000" stroke-width="1.3"/>
<rect x="174" y="556.8" width="6.8" height="6.8" fill="#000"/>
<line x1="169.8" y1="574" x2="186" y2="574" stroke="#000" stroke-width="1.3"/>
<rect x="174.6" y="571.2" width="5.6" height="5.6" fill="none" stroke="#000" stroke-width="1.8"/>
<text x="190.4" y="563.32" font-size="10.6" text-anchor="start" fill="#000" textLength="28.28" lengthAdjust="spacingAndGlyphs">PEO1</text>
<text x="190.4" y="577.42" font-size="10.6" text-anchor="start" fill="#000" textLength="28.28" lengthAdjust="spacingAndGlyphs">PEO4</text>
<text x="239.4" y="10.9" font-size="12.2" text-anchor="start" fill="#000" textLength="9.6" lengthAdjust="spacingAndGlyphs">B.</text>
<text x="239.5" y="167.6" font-size="12.2" text-anchor="start" fill="#000" textLength="10.5" lengthAdjust="spacingAndGlyphs">D.</text>
<text x="238.4" y="334" font-size="12.2" text-anchor="start" fill="#000" textLength="11.4" lengthAdjust="spacingAndGlyphs">G.</text>
<text x="245.5" y="489.5" font-size="12.2" text-anchor="start" fill="#000" textLength="5.4" lengthAdjust="spacingAndGlyphs">I.</text>
<line x1="272" y1="29.4" x2="272" y2="113" stroke="#7a7a7a" stroke-width="1.2"/>
<line x1="270.2" y1="113" x2="272" y2="113" stroke="#777" stroke-width="1"/>
<text x="269.4" y="116.31" font-size="9.2" text-anchor="end" fill="#222" textLength="4.71" lengthAdjust="spacingAndGlyphs">0</text>
<line x1="270.2" y1="85.13" x2="272" y2="85.13" stroke="#777" stroke-width="1"/>
<text x="269.4" y="88.45" font-size="9.2" text-anchor="end" fill="#222" textLength="9.41" lengthAdjust="spacingAndGlyphs">50</text>
<line x1="270.2" y1="57.27" x2="272" y2="57.27" stroke="#777" stroke-width="1"/>
<text x="269.4" y="60.58" font-size="9.2" text-anchor="end" fill="#222" textLength="14.12" lengthAdjust="spacingAndGlyphs">100</text>
<line x1="270.2" y1="29.4" x2="272" y2="29.4" stroke="#777" stroke-width="1"/>
<text x="269.4" y="32.71" font-size="9.2" text-anchor="end" fill="#222" textLength="14.12" lengthAdjust="spacingAndGlyphs">150</text>
<line x1="271.4" y1="113" x2="333" y2="113" stroke="#555" stroke-width="1.4"/>
<line x1="287.5" y1="104.6" x2="287.5" y2="104" stroke="#000" stroke-width="1.2"/>
<line x1="282.6" y1="104.6" x2="292.4" y2="104.6" stroke="#000" stroke-width="1.7"/>
<rect x="277.1" y="104.6" width="20.8" height="8.4" fill="#000"/>
<line x1="318.3" y1="39.2" x2="318.3" y2="37.6" stroke="#000" stroke-width="1.2"/>
<line x1="313.4" y1="38.2" x2="323.2" y2="38.2" stroke="#000" stroke-width="1.7"/>
<rect x="308.25" y="39.7" width="20.1" height="73.3" fill="#a3a3a3" stroke="#3a3a3a" stroke-width="1.1"/>
<line x1="307.7" y1="40.1" x2="328.9" y2="40.1" stroke="#000" stroke-width="1.8"/>
<text x="286.5" y="124.64" font-size="10.67" text-anchor="middle" fill="#111" textLength="28.05" lengthAdjust="spacingAndGlyphs">A2780</text>
<text x="318.4" y="124.64" font-size="10.67" text-anchor="middle" fill="#111" textLength="23.19" lengthAdjust="spacingAndGlyphs">C200</text>
<text x="310.9" y="20.85" font-size="8.2" text-anchor="middle" fill="#111" textLength="38.96" lengthAdjust="spacingAndGlyphs">Basal OCR</text>
<polygon points="313,28.85 313.56,30.33 315.14,30.4 313.9,31.39 314.32,32.92 313,32.05 311.68,32.92 312.1,31.39 310.86,30.4 312.44,30.33" fill="#1a1a1a"/>
<polygon points="318,28.85 318.56,30.33 320.14,30.4 318.9,31.39 319.32,32.92 318,32.05 316.68,32.92 317.1,31.39 315.86,30.4 317.44,30.33" fill="#1a1a1a"/>
<polygon points="323,28.85 323.56,30.33 325.14,30.4 323.9,31.39 324.32,32.92 323,32.05 321.68,32.92 322.1,31.39 320.86,30.4 322.44,30.33" fill="#1a1a1a"/>
<text transform="translate(250.9 73.5) rotate(-90)" x="0" y="3.35" font-size="9.3" text-anchor="middle" fill="#111" textLength="79.4" lengthAdjust="spacingAndGlyphs">OCR (pMoles/min)</text>
<line x1="370.4" y1="28.5" x2="370.4" y2="113" stroke="#7a7a7a" stroke-width="1.2"/>
<line x1="368.6" y1="113" x2="370.4" y2="113" stroke="#777" stroke-width="1"/>
<text x="367.8" y="116.31" font-size="9.2" text-anchor="end" fill="#222" textLength="4.71" lengthAdjust="spacingAndGlyphs">0</text>
<line x1="368.6" y1="84.83" x2="370.4" y2="84.83" stroke="#777" stroke-width="1"/>
<text x="367.8" y="88.15" font-size="9.2" text-anchor="end" fill="#222" textLength="14.12" lengthAdjust="spacingAndGlyphs">100</text>
<line x1="368.6" y1="56.67" x2="370.4" y2="56.67" stroke="#777" stroke-width="1"/>
<text x="367.8" y="59.98" font-size="9.2" text-anchor="end" fill="#222" textLength="14.12" lengthAdjust="spacingAndGlyphs">200</text>
<line x1="368.6" y1="28.5" x2="370.4" y2="28.5" stroke="#777" stroke-width="1"/>
<text x="367.8" y="31.81" font-size="9.2" text-anchor="end" fill="#222" textLength="14.12" lengthAdjust="spacingAndGlyphs">300</text>
<line x1="369.8" y1="113" x2="431.5" y2="113" stroke="#555" stroke-width="1.4"/>
<line x1="386.1" y1="105.3" x2="386.1" y2="104.1" stroke="#000" stroke-width="1.2"/>
<line x1="381.2" y1="104.7" x2="391" y2="104.7" stroke="#000" stroke-width="1.7"/>
<rect x="375.8" y="105.3" width="20.6" height="7.7" fill="#000"/>
<line x1="416.3" y1="35.8" x2="416.3" y2="33.2" stroke="#000" stroke-width="1.2"/>
<line x1="411.4" y1="33.8" x2="421.2" y2="33.8" stroke="#000" stroke-width="1.7"/>
<rect x="406.55" y="36.3" width="19.5" height="76.7" fill="#a3a3a3" stroke="#3a3a3a" stroke-width="1.1"/>
<line x1="406" y1="36.7" x2="426.6" y2="36.7" stroke="#000" stroke-width="1.8"/>
<text x="385.1" y="124.64" font-size="10.67" text-anchor="middle" fill="#111" textLength="28.05" lengthAdjust="spacingAndGlyphs">A2780</text>
<text x="416.4" y="124.64" font-size="10.67" text-anchor="middle" fill="#111" textLength="23.19" lengthAdjust="spacingAndGlyphs">C200</text>
<text x="410.2" y="20.65" font-size="8.2" text-anchor="middle" fill="#111" textLength="35.06" lengthAdjust="spacingAndGlyphs">Max Resp</text>
<polygon points="411.2,25.95 411.76,27.43 413.34,27.5 412.1,28.49 412.52,30.02 411.2,29.15 409.88,30.02 410.3,28.49 409.06,27.5 410.64,27.43" fill="#1a1a1a"/>
<polygon points="416.2,25.95 416.76,27.43 418.34,27.5 417.1,28.49 417.52,30.02 416.2,29.15 414.88,30.02 415.3,28.49 414.06,27.5 415.64,27.43" fill="#1a1a1a"/>
<polygon points="421.2,25.95 421.76,27.43 423.34,27.5 422.1,28.49 422.52,30.02 421.2,29.15 419.88,30.02 420.3,28.49 419.06,27.5 420.64,27.43" fill="#1a1a1a"/>
<text transform="translate(348.3 73.5) rotate(-90)" x="0" y="3.35" font-size="9.3" text-anchor="middle" fill="#111" textLength="79.4" lengthAdjust="spacingAndGlyphs">OCR (pMoles/min)</text>
<line x1="474.6" y1="27.8" x2="474.6" y2="112.6" stroke="#7a7a7a" stroke-width="1.2"/>
<line x1="472.8" y1="112.6" x2="474.6" y2="112.6" stroke="#777" stroke-width="1"/>
<text x="472" y="115.91" font-size="9.2" text-anchor="end" fill="#222" textLength="4.71" lengthAdjust="spacingAndGlyphs">0</text>
<line x1="472.8" y1="91.4" x2="474.6" y2="91.4" stroke="#777" stroke-width="1"/>
<text x="472" y="94.71" font-size="9.2" text-anchor="end" fill="#222" textLength="9.41" lengthAdjust="spacingAndGlyphs">50</text>
<line x1="472.8" y1="70.2" x2="474.6" y2="70.2" stroke="#777" stroke-width="1"/>
<text x="472" y="73.51" font-size="9.2" text-anchor="end" fill="#222" textLength="14.12" lengthAdjust="spacingAndGlyphs">100</text>
<line x1="472.8" y1="49" x2="474.6" y2="49" stroke="#777" stroke-width="1"/>
<text x="472" y="52.31" font-size="9.2" text-anchor="end" fill="#222" textLength="14.12" lengthAdjust="spacingAndGlyphs">150</text>
<line x1="472.8" y1="27.8" x2="474.6" y2="27.8" stroke="#777" stroke-width="1"/>
<text x="472" y="31.11" font-size="9.2" text-anchor="end" fill="#222" textLength="14.12" lengthAdjust="spacingAndGlyphs">200</text>
<line x1="474" y1="112.6" x2="536.6" y2="112.6" stroke="#555" stroke-width="1.4"/>
<line x1="490.5" y1="105" x2="490.5" y2="103.8" stroke="#000" stroke-width="1.2"/>
<line x1="485.6" y1="104.4" x2="495.4" y2="104.4" stroke="#000" stroke-width="1.7"/>
<rect x="480.2" y="105" width="20.6" height="7.6" fill="#000"/>
<line x1="520.75" y1="36.3" x2="520.75" y2="32" stroke="#000" stroke-width="1.2"/>
<line x1="515.85" y1="32.6" x2="525.65" y2="32.6" stroke="#000" stroke-width="1.7"/>
<rect x="510.55" y="36.8" width="20.4" height="75.8" fill="#a3a3a3" stroke="#3a3a3a" stroke-width="1.1"/>
<line x1="510" y1="37.2" x2="531.5" y2="37.2" stroke="#000" stroke-width="1.8"/>
<text x="491.5" y="124.64" font-size="10.67" text-anchor="middle" fill="#111" textLength="28.05" lengthAdjust="spacingAndGlyphs">A2780</text>
<text x="523.25" y="124.64" font-size="10.67" text-anchor="middle" fill="#111" textLength="23.19" lengthAdjust="spacingAndGlyphs">C200</text>
<text x="513.4" y="20.65" font-size="8.2" text-anchor="middle" fill="#111" textLength="49.35" lengthAdjust="spacingAndGlyphs">Resp Reserve</text>
<polygon points="515.6,25.15 516.16,26.63 517.74,26.7 516.5,27.69 516.92,29.22 515.6,28.35 514.28,29.22 514.7,27.69 513.46,26.7 515.04,26.63" fill="#1a1a1a"/>
<polygon points="520.6,25.15 521.16,26.63 522.74,26.7 521.5,27.69 521.92,29.22 520.6,28.35 519.28,29.22 519.7,27.69 518.46,26.7 520.04,26.63" fill="#1a1a1a"/>
<polygon points="525.6,25.15 526.16,26.63 527.74,26.7 526.5,27.69 526.92,29.22 525.6,28.35 524.28,29.22 524.7,27.69 523.46,26.7 525.04,26.63" fill="#1a1a1a"/>
<text transform="translate(452.7 73.5) rotate(-90)" x="0" y="3.35" font-size="9.3" text-anchor="middle" fill="#111" textLength="79.4" lengthAdjust="spacingAndGlyphs">OCR (pMoles/min)</text>
<line x1="573.2" y1="28" x2="573.2" y2="112.6" stroke="#7a7a7a" stroke-width="1.2"/>
<line x1="571.4" y1="112.6" x2="573.2" y2="112.6" stroke="#777" stroke-width="1"/>
<text x="570.6" y="115.91" font-size="9.2" text-anchor="end" fill="#222" textLength="4.71" lengthAdjust="spacingAndGlyphs">0</text>
<line x1="571.4" y1="91.45" x2="573.2" y2="91.45" stroke="#777" stroke-width="1"/>
<text x="570.6" y="94.76" font-size="9.2" text-anchor="end" fill="#222" textLength="9.41" lengthAdjust="spacingAndGlyphs">20</text>
<line x1="571.4" y1="70.3" x2="573.2" y2="70.3" stroke="#777" stroke-width="1"/>
<text x="570.6" y="73.61" font-size="9.2" text-anchor="end" fill="#222" textLength="9.41" lengthAdjust="spacingAndGlyphs">40</text>
<line x1="571.4" y1="49.15" x2="573.2" y2="49.15" stroke="#777" stroke-width="1"/>
<text x="570.6" y="52.46" font-size="9.2" text-anchor="end" fill="#222" textLength="9.41" lengthAdjust="spacingAndGlyphs">60</text>
<line x1="571.4" y1="28" x2="573.2" y2="28" stroke="#777" stroke-width="1"/>
<text x="570.6" y="31.31" font-size="9.2" text-anchor="end" fill="#222" textLength="9.41" lengthAdjust="spacingAndGlyphs">80</text>
<line x1="572.6" y1="112.6" x2="634.2" y2="112.6" stroke="#555" stroke-width="1.4"/>
<line x1="588.7" y1="107" x2="588.7" y2="106.2" stroke="#000" stroke-width="1.2"/>
<line x1="583.8" y1="106.8" x2="593.6" y2="106.8" stroke="#000" stroke-width="1.7"/>
<rect x="578.3" y="107" width="20.8" height="5.6" fill="#000"/>
<line x1="619.3" y1="40" x2="619.3" y2="38.5" stroke="#000" stroke-width="1.2"/>
<line x1="614.4" y1="39.1" x2="624.2" y2="39.1" stroke="#000" stroke-width="1.7"/>
<rect x="609.35" y="40.5" width="19.9" height="72.1" fill="#a3a3a3" stroke="#3a3a3a" stroke-width="1.1"/>
<line x1="608.8" y1="40.9" x2="629.8" y2="40.9" stroke="#000" stroke-width="1.8"/>
<text x="589.1" y="124.64" font-size="10.67" text-anchor="middle" fill="#111" textLength="28.05" lengthAdjust="spacingAndGlyphs">A2780</text>
<text x="621.1" y="124.64" font-size="10.67" text-anchor="middle" fill="#111" textLength="23.19" lengthAdjust="spacingAndGlyphs">C200</text>
<text x="604.4" y="20.65" font-size="8.2" text-anchor="middle" fill="#111" textLength="40.12" lengthAdjust="spacingAndGlyphs">ATP-Linked</text>
<polygon points="614.4,32.05 614.96,33.53 616.54,33.6 615.3,34.59 615.72,36.12 614.4,35.25 613.08,36.12 613.5,34.59 612.26,33.6 613.84,33.53" fill="#1a1a1a"/>
<polygon points="619.4,32.05 619.96,33.53 621.54,33.6 620.3,34.59 620.72,36.12 619.4,35.25 618.08,36.12 618.5,34.59 617.26,33.6 618.84,33.53" fill="#1a1a1a"/>
<polygon points="624.4,32.05 624.96,33.53 626.54,33.6 625.3,34.59 625.72,36.12 624.4,35.25 623.08,36.12 623.5,34.59 622.26,33.6 623.84,33.53" fill="#1a1a1a"/>
<text transform="translate(554.4 73.5) rotate(-90)" x="0" y="3.35" font-size="9.3" text-anchor="middle" fill="#111" textLength="79.4" lengthAdjust="spacingAndGlyphs">OCR (pMoles/min)</text>
<line x1="272.4" y1="173.5" x2="272.4" y2="257.7" stroke="#7a7a7a" stroke-width="1.2"/>
<line x1="270.6" y1="257.7" x2="272.4" y2="257.7" stroke="#777" stroke-width="1"/>
<text x="269.8" y="261.01" font-size="9.2" text-anchor="end" fill="#222" textLength="4.71" lengthAdjust="spacingAndGlyphs">0</text>
<line x1="270.6" y1="236.65" x2="272.4" y2="236.65" stroke="#777" stroke-width="1"/>
<text x="269.8" y="239.96" font-size="9.2" text-anchor="end" fill="#222" textLength="9.41" lengthAdjust="spacingAndGlyphs">10</text>
<line x1="270.6" y1="215.6" x2="272.4" y2="215.6" stroke="#777" stroke-width="1"/>
<text x="269.8" y="218.91" font-size="9.2" text-anchor="end" fill="#222" textLength="9.41" lengthAdjust="spacingAndGlyphs">20</text>
<line x1="270.6" y1="194.55" x2="272.4" y2="194.55" stroke="#777" stroke-width="1"/>
<text x="269.8" y="197.86" font-size="9.2" text-anchor="end" fill="#222" textLength="9.41" lengthAdjust="spacingAndGlyphs">30</text>
<line x1="270.6" y1="173.5" x2="272.4" y2="173.5" stroke="#777" stroke-width="1"/>
<text x="269.8" y="176.81" font-size="9.2" text-anchor="end" fill="#222" textLength="9.41" lengthAdjust="spacingAndGlyphs">40</text>
<line x1="271.8" y1="257.7" x2="333.2" y2="257.7" stroke="#555" stroke-width="1.4"/>
<line x1="287.6" y1="220.9" x2="287.6" y2="219.2" stroke="#000" stroke-width="1.2"/>
<line x1="282.7" y1="219.8" x2="292.5" y2="219.8" stroke="#000" stroke-width="1.7"/>
<rect x="277.3" y="220.9" width="20.6" height="36.8" fill="#000"/>
<line x1="287.6" y1="257.7" x2="287.6" y2="259.9" stroke="#bbb" stroke-width="0.8"/>
<line x1="318.5" y1="189.9" x2="318.5" y2="187.8" stroke="#000" stroke-width="1.2"/>
<line x1="313.6" y1="188.4" x2="323.4" y2="188.4" stroke="#000" stroke-width="1.7"/>
<rect x="308.75" y="190.4" width="19.5" height="67.3" fill="#a3a3a3" stroke="#3a3a3a" stroke-width="1.1"/>
<line x1="308.2" y1="190.8" x2="328.8" y2="190.8" stroke="#000" stroke-width="1.8"/>
<line x1="318.5" y1="257.7" x2="318.5" y2="259.9" stroke="#bbb" stroke-width="0.8"/>
<text x="286.6" y="269.38" font-size="10.78" text-anchor="middle" fill="#111" textLength="28.34" lengthAdjust="spacingAndGlyphs">A2780</text>
<text x="318.6" y="269.38" font-size="10.78" text-anchor="middle" fill="#111" textLength="23.43" lengthAdjust="spacingAndGlyphs">C200</text>
<text x="321" y="166.95" font-size="8.2" text-anchor="middle" fill="#111" textLength="43.29" lengthAdjust="spacingAndGlyphs">Basal ECAR</text>
<polygon points="315.7,180.85 316.26,182.33 317.84,182.4 316.6,183.39 317.02,184.92 315.7,184.05 314.38,184.92 314.8,183.39 313.56,182.4 315.14,182.33" fill="#1a1a1a"/>
<polygon points="320.7,180.85 321.26,182.33 322.84,182.4 321.6,183.39 322.02,184.92 320.7,184.05 319.38,184.92 319.8,183.39 318.56,182.4 320.14,182.33" fill="#1a1a1a"/>
<text transform="translate(251.9 217) rotate(-90)" x="0" y="3.35" font-size="9.3" text-anchor="middle" fill="#111" textLength="80.2" lengthAdjust="spacingAndGlyphs">ECAR (mpH/min)</text>
<line x1="371.2" y1="173.5" x2="371.2" y2="257.7" stroke="#7a7a7a" stroke-width="1.2"/>
<line x1="369.4" y1="257.7" x2="371.2" y2="257.7" stroke="#777" stroke-width="1"/>
<text x="368.6" y="261.01" font-size="9.2" text-anchor="end" fill="#222" textLength="4.71" lengthAdjust="spacingAndGlyphs">0</text>
<line x1="369.4" y1="240.86" x2="371.2" y2="240.86" stroke="#777" stroke-width="1"/>
<text x="368.6" y="244.17" font-size="9.2" text-anchor="end" fill="#222" textLength="9.41" lengthAdjust="spacingAndGlyphs">50</text>
<line x1="369.4" y1="224.02" x2="371.2" y2="224.02" stroke="#777" stroke-width="1"/>
<text x="368.6" y="227.33" font-size="9.2" text-anchor="end" fill="#222" textLength="14.12" lengthAdjust="spacingAndGlyphs">100</text>
<line x1="369.4" y1="207.18" x2="371.2" y2="207.18" stroke="#777" stroke-width="1"/>
<text x="368.6" y="210.49" font-size="9.2" text-anchor="end" fill="#222" textLength="14.12" lengthAdjust="spacingAndGlyphs">150</text>
<line x1="369.4" y1="190.34" x2="371.2" y2="190.34" stroke="#777" stroke-width="1"/>
<text x="368.6" y="193.65" font-size="9.2" text-anchor="end" fill="#222" textLength="14.12" lengthAdjust="spacingAndGlyphs">200</text>
<line x1="369.4" y1="173.5" x2="371.2" y2="173.5" stroke="#777" stroke-width="1"/>
<text x="368.6" y="176.81" font-size="9.2" text-anchor="end" fill="#222" textLength="14.12" lengthAdjust="spacingAndGlyphs">250</text>
<line x1="370.6" y1="257.7" x2="433.2" y2="257.7" stroke="#555" stroke-width="1.4"/>
<line x1="386.8" y1="212.2" x2="386.8" y2="211.3" stroke="#000" stroke-width="1.2"/>
<line x1="381.9" y1="211.9" x2="391.7" y2="211.9" stroke="#000" stroke-width="1.7"/>
<rect x="376.3" y="212.2" width="21" height="45.5" fill="#000"/>
<line x1="386.8" y1="257.7" x2="386.8" y2="259.9" stroke="#bbb" stroke-width="0.8"/>
<line x1="417.45" y1="186.3" x2="417.45" y2="180.5" stroke="#000" stroke-width="1.2"/>
<line x1="412.55" y1="181.1" x2="422.35" y2="181.1" stroke="#000" stroke-width="1.7"/>
<rect x="407.85" y="186.8" width="19.2" height="70.9" fill="#a3a3a3" stroke="#3a3a3a" stroke-width="1.1"/>
<line x1="407.3" y1="187.2" x2="427.6" y2="187.2" stroke="#000" stroke-width="1.8"/>
<line x1="417.45" y1="257.7" x2="417.45" y2="259.9" stroke="#bbb" stroke-width="0.8"/>
<text x="385.8" y="269.38" font-size="10.78" text-anchor="middle" fill="#111" textLength="28.34" lengthAdjust="spacingAndGlyphs">A2780</text>
<text x="417.55" y="269.38" font-size="10.78" text-anchor="middle" fill="#111" textLength="23.43" lengthAdjust="spacingAndGlyphs">C200</text>
<text x="409.7" y="167.95" font-size="8.2" text-anchor="middle" fill="#111" textLength="48.05" lengthAdjust="spacingAndGlyphs">Glyc Capacity</text>
<polygon points="417,173.55 417.56,175.03 419.14,175.1 417.9,176.09 418.32,177.62 417,176.75 415.68,177.62 416.1,176.09 414.86,175.1 416.44,175.03" fill="#1a1a1a"/>
<text transform="translate(347.6 217) rotate(-90)" x="0" y="3.35" font-size="9.3" text-anchor="middle" fill="#111" textLength="80.2" lengthAdjust="spacingAndGlyphs">ECAR (mpH/min)</text>
<line x1="474.6" y1="173.5" x2="474.6" y2="257.7" stroke="#7a7a7a" stroke-width="1.2"/>
<line x1="472.8" y1="257.7" x2="474.6" y2="257.7" stroke="#777" stroke-width="1"/>
<text x="472" y="261.01" font-size="9.2" text-anchor="end" fill="#222" textLength="4.71" lengthAdjust="spacingAndGlyphs">0</text>
<line x1="472.8" y1="240.86" x2="474.6" y2="240.86" stroke="#777" stroke-width="1"/>
<text x="472" y="244.17" font-size="9.2" text-anchor="end" fill="#222" textLength="9.41" lengthAdjust="spacingAndGlyphs">10</text>
<line x1="472.8" y1="224.02" x2="474.6" y2="224.02" stroke="#777" stroke-width="1"/>
<text x="472" y="227.33" font-size="9.2" text-anchor="end" fill="#222" textLength="9.41" lengthAdjust="spacingAndGlyphs">20</text>
<line x1="472.8" y1="207.18" x2="474.6" y2="207.18" stroke="#777" stroke-width="1"/>
<text x="472" y="210.49" font-size="9.2" text-anchor="end" fill="#222" textLength="9.41" lengthAdjust="spacingAndGlyphs">30</text>
<line x1="472.8" y1="190.34" x2="474.6" y2="190.34" stroke="#777" stroke-width="1"/>
<text x="472" y="193.65" font-size="9.2" text-anchor="end" fill="#222" textLength="9.41" lengthAdjust="spacingAndGlyphs">40</text>
<line x1="472.8" y1="173.5" x2="474.6" y2="173.5" stroke="#777" stroke-width="1"/>
<text x="472" y="176.81" font-size="9.2" text-anchor="end" fill="#222" textLength="9.41" lengthAdjust="spacingAndGlyphs">50</text>
<line x1="474" y1="257.7" x2="536.6" y2="257.7" stroke="#555" stroke-width="1.4"/>
<line x1="490.5" y1="239" x2="490.5" y2="236.9" stroke="#000" stroke-width="1.2"/>
<line x1="485.6" y1="237.5" x2="495.4" y2="237.5" stroke="#000" stroke-width="1.7"/>
<rect x="480.2" y="239" width="20.6" height="18.7" fill="#000"/>
<line x1="490.5" y1="257.7" x2="490.5" y2="259.9" stroke="#bbb" stroke-width="0.8"/>
<line x1="520.9" y1="181.5" x2="520.9" y2="179.3" stroke="#000" stroke-width="1.2"/>
<line x1="516" y1="179.9" x2="525.8" y2="179.9" stroke="#000" stroke-width="1.7"/>
<rect x="511.05" y="182" width="19.7" height="75.7" fill="#a3a3a3" stroke="#3a3a3a" stroke-width="1.1"/>
<line x1="510.5" y1="182.4" x2="531.3" y2="182.4" stroke="#000" stroke-width="1.8"/>
<line x1="520.9" y1="257.7" x2="520.9" y2="259.9" stroke="#bbb" stroke-width="0.8"/>
<text x="493" y="269.38" font-size="10.78" text-anchor="middle" fill="#111" textLength="28.34" lengthAdjust="spacingAndGlyphs">A2780</text>
<text x="524.9" y="269.38" font-size="10.78" text-anchor="middle" fill="#111" textLength="23.43" lengthAdjust="spacingAndGlyphs">C200</text>
<text x="515.8" y="167.45" font-size="8.2" text-anchor="middle" fill="#111" textLength="46.75" lengthAdjust="spacingAndGlyphs">Glyc Reserve</text>
<polygon points="515.2,173.15 515.76,174.63 517.34,174.7 516.1,175.69 516.52,177.22 515.2,176.35 513.88,177.22 514.3,175.69 513.06,174.7 514.64,174.63" fill="#1a1a1a"/>
<polygon points="520.2,173.15 520.76,174.63 522.34,174.7 521.1,175.69 521.52,177.22 520.2,176.35 518.88,177.22 519.3,175.69 518.06,174.7 519.64,174.63" fill="#1a1a1a"/>
<polygon points="525.2,173.15 525.76,174.63 527.34,174.7 526.1,175.69 526.52,177.22 525.2,176.35 523.88,177.22 524.3,175.69 523.06,174.7 524.64,174.63" fill="#1a1a1a"/>
<text transform="translate(454.4 217) rotate(-90)" x="0" y="3.35" font-size="9.3" text-anchor="middle" fill="#111" textLength="80.2" lengthAdjust="spacingAndGlyphs">ECAR (mpH/min)</text>
<line x1="271.2" y1="348.4" x2="271.2" y2="432.3" stroke="#7a7a7a" stroke-width="1.2"/>
<line x1="269.4" y1="432.3" x2="271.2" y2="432.3" stroke="#777" stroke-width="1"/>
<text x="268.6" y="435.61" font-size="9.2" text-anchor="end" fill="#222" textLength="4.71" lengthAdjust="spacingAndGlyphs">0</text>
<line x1="269.4" y1="411.32" x2="271.2" y2="411.32" stroke="#777" stroke-width="1"/>
<text x="268.6" y="414.64" font-size="9.2" text-anchor="end" fill="#222" textLength="9.41" lengthAdjust="spacingAndGlyphs">10</text>
<line x1="269.4" y1="390.35" x2="271.2" y2="390.35" stroke="#777" stroke-width="1"/>
<text x="268.6" y="393.66" font-size="9.2" text-anchor="end" fill="#222" textLength="9.41" lengthAdjust="spacingAndGlyphs">20</text>
<line x1="269.4" y1="369.38" x2="271.2" y2="369.38" stroke="#777" stroke-width="1"/>
<text x="268.6" y="372.69" font-size="9.2" text-anchor="end" fill="#222" textLength="9.41" lengthAdjust="spacingAndGlyphs">30</text>
<line x1="269.4" y1="348.4" x2="271.2" y2="348.4" stroke="#777" stroke-width="1"/>
<text x="268.6" y="351.71" font-size="9.2" text-anchor="end" fill="#222" textLength="9.41" lengthAdjust="spacingAndGlyphs">40</text>
<line x1="270.6" y1="432.3" x2="331.5" y2="432.3" stroke="#555" stroke-width="1.4"/>
<line x1="287" y1="413.9" x2="287" y2="410.8" stroke="#000" stroke-width="1.2"/>
<line x1="282.1" y1="411.4" x2="291.9" y2="411.4" stroke="#000" stroke-width="1.7"/>
<rect x="276.8" y="413.9" width="20.4" height="18.4" fill="#000"/>
<line x1="287" y1="432.3" x2="287" y2="434.5" stroke="#bbb" stroke-width="0.8"/>
<line x1="317.5" y1="363.6" x2="317.5" y2="353" stroke="#000" stroke-width="1.2"/>
<line x1="312.6" y1="353.6" x2="322.4" y2="353.6" stroke="#000" stroke-width="1.7"/>
<rect x="307.85" y="364.1" width="19.3" height="68.2" fill="#a3a3a3" stroke="#3a3a3a" stroke-width="1.1"/>
<line x1="307.3" y1="364.5" x2="327.7" y2="364.5" stroke="#000" stroke-width="1.8"/>
<line x1="317.5" y1="432.3" x2="317.5" y2="434.5" stroke="#bbb" stroke-width="0.8"/>
<text x="286.5" y="446.08" font-size="9.68" text-anchor="middle" fill="#111" textLength="23.48" lengthAdjust="spacingAndGlyphs">PEO1</text>
<text x="318.9" y="446.08" font-size="9.68" text-anchor="middle" fill="#111" textLength="23.48" lengthAdjust="spacingAndGlyphs">PEO4</text>
<text x="310.9" y="341.15" font-size="8.2" text-anchor="middle" fill="#111" textLength="38.96" lengthAdjust="spacingAndGlyphs">Basal OCR</text>
<polygon points="312.4,344.65 312.96,346.13 314.54,346.2 313.3,347.19 313.72,348.72 312.4,347.85 311.08,348.72 311.5,347.19 310.26,346.2 311.84,346.13" fill="#1a1a1a"/>
<polygon points="317.4,344.65 317.96,346.13 319.54,346.2 318.3,347.19 318.72,348.72 317.4,347.85 316.08,348.72 316.5,347.19 315.26,346.2 316.84,346.13" fill="#1a1a1a"/>
<polygon points="322.4,344.65 322.96,346.13 324.54,346.2 323.3,347.19 323.72,348.72 322.4,347.85 321.08,348.72 321.5,347.19 320.26,346.2 321.84,346.13" fill="#1a1a1a"/>
<text transform="translate(254.3 390.5) rotate(-90)" x="0" y="3.35" font-size="9.3" text-anchor="middle" fill="#111" textLength="78.7" lengthAdjust="spacingAndGlyphs">OCR (pMoles/min)</text>
<line x1="370" y1="347.9" x2="370" y2="432.3" stroke="#7a7a7a" stroke-width="1.2"/>
<line x1="368.2" y1="432.3" x2="370" y2="432.3" stroke="#777" stroke-width="1"/>
<text x="367.4" y="435.61" font-size="9.2" text-anchor="end" fill="#222" textLength="4.71" lengthAdjust="spacingAndGlyphs">0</text>
<line x1="368.2" y1="404.17" x2="370" y2="404.17" stroke="#777" stroke-width="1"/>
<text x="367.4" y="407.48" font-size="9.2" text-anchor="end" fill="#222" textLength="9.41" lengthAdjust="spacingAndGlyphs">10</text>
<line x1="368.2" y1="376.03" x2="370" y2="376.03" stroke="#777" stroke-width="1"/>
<text x="367.4" y="379.35" font-size="9.2" text-anchor="end" fill="#222" textLength="9.41" lengthAdjust="spacingAndGlyphs">20</text>
<line x1="368.2" y1="347.9" x2="370" y2="347.9" stroke="#777" stroke-width="1"/>
<text x="367.4" y="351.21" font-size="9.2" text-anchor="end" fill="#222" textLength="9.41" lengthAdjust="spacingAndGlyphs">30</text>
<line x1="369.4" y1="432.3" x2="431.5" y2="432.3" stroke="#555" stroke-width="1.4"/>
<line x1="385.85" y1="419" x2="385.85" y2="418.4" stroke="#000" stroke-width="1.2"/>
<line x1="380.95" y1="419" x2="390.75" y2="419" stroke="#000" stroke-width="1.7"/>
<rect x="375.6" y="419" width="20.5" height="13.3" fill="#000"/>
<line x1="385.85" y1="432.3" x2="385.85" y2="434.5" stroke="#bbb" stroke-width="0.8"/>
<line x1="416.3" y1="359.8" x2="416.3" y2="354.2" stroke="#000" stroke-width="1.2"/>
<line x1="411.4" y1="354.8" x2="421.2" y2="354.8" stroke="#000" stroke-width="1.7"/>
<rect x="406.55" y="360.3" width="19.5" height="72" fill="#a3a3a3" stroke="#3a3a3a" stroke-width="1.1"/>
<line x1="406" y1="360.7" x2="426.6" y2="360.7" stroke="#000" stroke-width="1.8"/>
<line x1="416.3" y1="432.3" x2="416.3" y2="434.5" stroke="#bbb" stroke-width="0.8"/>
<text x="386.35" y="446.28" font-size="10.23" text-anchor="middle" fill="#111" textLength="24.81" lengthAdjust="spacingAndGlyphs">PEO1</text>
<text x="419.4" y="446.28" font-size="10.23" text-anchor="middle" fill="#111" textLength="24.81" lengthAdjust="spacingAndGlyphs">PEO4</text>
<text x="409.4" y="340.95" font-size="8.2" text-anchor="middle" fill="#111" textLength="35.06" lengthAdjust="spacingAndGlyphs">Max Resp</text>
<polygon points="412,347.75 412.56,349.23 414.14,349.3 412.9,350.29 413.32,351.82 412,350.95 410.68,351.82 411.1,350.29 409.86,349.3 411.44,349.23" fill="#1a1a1a"/>
<polygon points="417,347.75 417.56,349.23 419.14,349.3 417.9,350.29 418.32,351.82 417,350.95 415.68,351.82 416.1,350.29 414.86,349.3 416.44,349.23" fill="#1a1a1a"/>
<polygon points="422,347.75 422.56,349.23 424.14,349.3 422.9,350.29 423.32,351.82 422,350.95 420.68,351.82 421.1,350.29 419.86,349.3 421.44,349.23" fill="#1a1a1a"/>
<text transform="translate(352.4 390.5) rotate(-90)" x="0" y="3.35" font-size="9.3" text-anchor="middle" fill="#111" textLength="78.7" lengthAdjust="spacingAndGlyphs">OCR (pMoles/min)</text>
<line x1="474.4" y1="347.9" x2="474.4" y2="432.3" stroke="#7a7a7a" stroke-width="1.2"/>
<line x1="472.6" y1="432.3" x2="474.4" y2="432.3" stroke="#777" stroke-width="1"/>
<text x="471.8" y="435.61" font-size="9.2" text-anchor="end" fill="#222" textLength="4.71" lengthAdjust="spacingAndGlyphs">0</text>
<line x1="472.6" y1="415.42" x2="474.4" y2="415.42" stroke="#777" stroke-width="1"/>
<text x="471.8" y="418.73" font-size="9.2" text-anchor="end" fill="#222" textLength="11.76" lengthAdjust="spacingAndGlyphs">0.5</text>
<line x1="472.6" y1="398.54" x2="474.4" y2="398.54" stroke="#777" stroke-width="1"/>
<text x="471.8" y="401.85" font-size="9.2" text-anchor="end" fill="#222" textLength="11.76" lengthAdjust="spacingAndGlyphs">1.0</text>
<line x1="472.6" y1="381.66" x2="474.4" y2="381.66" stroke="#777" stroke-width="1"/>
<text x="471.8" y="384.97" font-size="9.2" text-anchor="end" fill="#222" textLength="11.76" lengthAdjust="spacingAndGlyphs">1.5</text>
<line x1="472.6" y1="364.78" x2="474.4" y2="364.78" stroke="#777" stroke-width="1"/>
<text x="471.8" y="368.09" font-size="9.2" text-anchor="end" fill="#222" textLength="11.76" lengthAdjust="spacingAndGlyphs">2.0</text>
<line x1="472.6" y1="347.9" x2="474.4" y2="347.9" stroke="#777" stroke-width="1"/>
<text x="471.8" y="351.21" font-size="9.2" text-anchor="end" fill="#222" textLength="11.76" lengthAdjust="spacingAndGlyphs">2.5</text>
<line x1="473.8" y1="432.3" x2="535.9" y2="432.3" stroke="#555" stroke-width="1.4"/>
<line x1="489.95" y1="425.3" x2="489.95" y2="407" stroke="#888" stroke-width="1"/>
<line x1="485.05" y1="407.6" x2="494.85" y2="407.6" stroke="#111" stroke-width="1.3"/>
<rect x="479.8" y="425.3" width="20.3" height="7" fill="#000"/>
<line x1="489.95" y1="432.3" x2="489.95" y2="434.5" stroke="#bbb" stroke-width="0.8"/>
<line x1="520.3" y1="372.1" x2="520.3" y2="359.8" stroke="#000" stroke-width="1.2"/>
<line x1="515.4" y1="360.4" x2="525.2" y2="360.4" stroke="#000" stroke-width="1.7"/>
<rect x="510.55" y="372.6" width="19.5" height="59.7" fill="#a3a3a3" stroke="#3a3a3a" stroke-width="1.1"/>
<line x1="510" y1="373" x2="530.6" y2="373" stroke="#000" stroke-width="1.8"/>
<line x1="520.3" y1="432.3" x2="520.3" y2="434.5" stroke="#bbb" stroke-width="0.8"/>
<text x="490.85" y="446.28" font-size="10.23" text-anchor="middle" fill="#111" textLength="24.81" lengthAdjust="spacingAndGlyphs">PEO1</text>
<text x="523.4" y="446.28" font-size="10.23" text-anchor="middle" fill="#111" textLength="24.81" lengthAdjust="spacingAndGlyphs">PEO4</text>
<text x="512.9" y="340.95" font-size="8.2" text-anchor="middle" fill="#111" textLength="49.35" lengthAdjust="spacingAndGlyphs">Resp Reserve</text>
<polygon points="516.5,353.35 517.06,354.83 518.64,354.9 517.4,355.89 517.82,357.42 516.5,356.55 515.18,357.42 515.6,355.89 514.36,354.9 515.94,354.83" fill="#1a1a1a"/>
<polygon points="521.5,353.35 522.06,354.83 523.64,354.9 522.4,355.89 522.82,357.42 521.5,356.55 520.18,357.42 520.6,355.89 519.36,354.9 520.94,354.83" fill="#1a1a1a"/>
<text transform="translate(453.9 390.5) rotate(-90)" x="0" y="3.35" font-size="9.3" text-anchor="middle" fill="#111" textLength="78.7" lengthAdjust="spacingAndGlyphs">OCR (pMoles/min)</text>
<line x1="575" y1="347.9" x2="575" y2="432.3" stroke="#7a7a7a" stroke-width="1.2"/>
<line x1="573.2" y1="432.3" x2="575" y2="432.3" stroke="#777" stroke-width="1"/>
<text x="572.4" y="435.61" font-size="9.2" text-anchor="end" fill="#222" textLength="4.71" lengthAdjust="spacingAndGlyphs">0</text>
<line x1="573.2" y1="411.2" x2="575" y2="411.2" stroke="#777" stroke-width="1"/>
<text x="572.4" y="414.51" font-size="9.2" text-anchor="end" fill="#222" textLength="4.71" lengthAdjust="spacingAndGlyphs">5</text>
<line x1="573.2" y1="390.1" x2="575" y2="390.1" stroke="#777" stroke-width="1"/>
<text x="572.4" y="393.41" font-size="9.2" text-anchor="end" fill="#222" textLength="9.41" lengthAdjust="spacingAndGlyphs">10</text>
<line x1="573.2" y1="369" x2="575" y2="369" stroke="#777" stroke-width="1"/>
<text x="572.4" y="372.31" font-size="9.2" text-anchor="end" fill="#222" textLength="9.41" lengthAdjust="spacingAndGlyphs">15</text>
<line x1="573.2" y1="347.9" x2="575" y2="347.9" stroke="#777" stroke-width="1"/>
<text x="572.4" y="351.21" font-size="9.2" text-anchor="end" fill="#222" textLength="9.41" lengthAdjust="spacingAndGlyphs">20</text>
<line x1="574.4" y1="432.3" x2="636.6" y2="432.3" stroke="#555" stroke-width="1.4"/>
<line x1="590.5" y1="419.8" x2="590.5" y2="417.1" stroke="#000" stroke-width="1.2"/>
<line x1="585.6" y1="417.7" x2="595.4" y2="417.7" stroke="#000" stroke-width="1.7"/>
<rect x="580.2" y="419.8" width="20.6" height="12.5" fill="#000"/>
<line x1="590.5" y1="432.3" x2="590.5" y2="434.5" stroke="#bbb" stroke-width="0.8"/>
<line x1="621" y1="356.1" x2="621" y2="355" stroke="#000" stroke-width="1.2"/>
<line x1="616.1" y1="355.6" x2="625.9" y2="355.6" stroke="#000" stroke-width="1.7"/>
<rect x="611.05" y="356.6" width="19.9" height="75.7" fill="#a3a3a3" stroke="#3a3a3a" stroke-width="1.1"/>
<line x1="610.5" y1="357" x2="631.5" y2="357" stroke="#000" stroke-width="1.8"/>
<line x1="621" y1="432.3" x2="621" y2="434.5" stroke="#bbb" stroke-width="0.8"/>
<text x="590.4" y="446.28" font-size="10.23" text-anchor="middle" fill="#111" textLength="24.81" lengthAdjust="spacingAndGlyphs">PEO1</text>
<text x="623" y="446.28" font-size="10.23" text-anchor="middle" fill="#111" textLength="24.81" lengthAdjust="spacingAndGlyphs">PEO4</text>
<text x="610.5" y="340.95" font-size="8.2" text-anchor="middle" fill="#111" textLength="40.12" lengthAdjust="spacingAndGlyphs">ATP-Linked</text>
<polygon points="615.2,348.95 615.76,350.43 617.34,350.5 616.1,351.49 616.52,353.02 615.2,352.15 613.88,353.02 614.3,351.49 613.06,350.5 614.64,350.43" fill="#1a1a1a"/>
<polygon points="620.2,348.95 620.76,350.43 622.34,350.5 621.1,351.49 621.52,353.02 620.2,352.15 618.88,353.02 619.3,351.49 618.06,350.5 619.64,350.43" fill="#1a1a1a"/>
<polygon points="625.2,348.95 625.76,350.43 627.34,350.5 626.1,351.49 626.52,353.02 625.2,352.15 623.88,353.02 624.3,351.49 623.06,350.5 624.64,350.43" fill="#1a1a1a"/>
<text transform="translate(556.4 390.5) rotate(-90)" x="0" y="3.35" font-size="9.3" text-anchor="middle" fill="#111" textLength="78.7" lengthAdjust="spacingAndGlyphs">OCR (pMoles/min)</text>
<line x1="270.4" y1="498.7" x2="270.4" y2="583.2" stroke="#7a7a7a" stroke-width="1.2"/>
<line x1="268.6" y1="583.2" x2="270.4" y2="583.2" stroke="#777" stroke-width="1"/>
<text x="267.8" y="586.51" font-size="9.2" text-anchor="end" fill="#222" textLength="4.71" lengthAdjust="spacingAndGlyphs">0</text>
<line x1="268.6" y1="562.08" x2="270.4" y2="562.08" stroke="#777" stroke-width="1"/>
<text x="267.8" y="565.39" font-size="9.2" text-anchor="end" fill="#222" textLength="9.41" lengthAdjust="spacingAndGlyphs">10</text>
<line x1="268.6" y1="540.95" x2="270.4" y2="540.95" stroke="#777" stroke-width="1"/>
<text x="267.8" y="544.26" font-size="9.2" text-anchor="end" fill="#222" textLength="9.41" lengthAdjust="spacingAndGlyphs">20</text>
<line x1="268.6" y1="519.83" x2="270.4" y2="519.83" stroke="#777" stroke-width="1"/>
<text x="267.8" y="523.14" font-size="9.2" text-anchor="end" fill="#222" textLength="9.41" lengthAdjust="spacingAndGlyphs">30</text>
<line x1="268.6" y1="498.7" x2="270.4" y2="498.7" stroke="#777" stroke-width="1"/>
<text x="267.8" y="502.01" font-size="9.2" text-anchor="end" fill="#222" textLength="9.41" lengthAdjust="spacingAndGlyphs">40</text>
<line x1="269.8" y1="583.2" x2="332" y2="583.2" stroke="#555" stroke-width="1.4"/>
<line x1="286.05" y1="527.7" x2="286.05" y2="524.6" stroke="#000" stroke-width="1.2"/>
<line x1="281.15" y1="525.2" x2="290.95" y2="525.2" stroke="#000" stroke-width="1.7"/>
<rect x="275.7" y="527.7" width="20.7" height="55.5" fill="#000"/>
<line x1="286.05" y1="583.2" x2="286.05" y2="585.4" stroke="#bbb" stroke-width="0.8"/>
<line x1="316.7" y1="506" x2="316.7" y2="502.6" stroke="#000" stroke-width="1.2"/>
<line x1="311.8" y1="503.2" x2="321.6" y2="503.2" stroke="#000" stroke-width="1.7"/>
<rect x="306.95" y="506.5" width="19.5" height="76.7" fill="#a3a3a3" stroke="#3a3a3a" stroke-width="1.1"/>
<line x1="306.4" y1="506.9" x2="327" y2="506.9" stroke="#000" stroke-width="1.8"/>
<line x1="316.7" y1="583.2" x2="316.7" y2="585.4" stroke="#bbb" stroke-width="0.8"/>
<text x="285.55" y="595.38" font-size="9.68" text-anchor="middle" fill="#111" textLength="23.48" lengthAdjust="spacingAndGlyphs">PEO1</text>
<text x="318.5" y="595.38" font-size="9.68" text-anchor="middle" fill="#111" textLength="23.48" lengthAdjust="spacingAndGlyphs">PEO4</text>
<text x="314" y="491.25" font-size="8.2" text-anchor="middle" fill="#111" textLength="43.29" lengthAdjust="spacingAndGlyphs">Basal ECAR</text>
<polygon points="315.7,494.45 316.26,495.93 317.84,496 316.6,496.99 317.02,498.52 315.7,497.65 314.38,498.52 314.8,496.99 313.56,496 315.14,495.93" fill="#1a1a1a"/>
<text transform="translate(252.7 544.7) rotate(-90)" x="0" y="3.35" font-size="9.3" text-anchor="middle" fill="#111" textLength="79" lengthAdjust="spacingAndGlyphs">ECAR (mpH/min)</text>
<line x1="370.4" y1="498.7" x2="370.4" y2="583.2" stroke="#7a7a7a" stroke-width="1.2"/>
<line x1="368.6" y1="583.2" x2="370.4" y2="583.2" stroke="#777" stroke-width="1"/>
<text x="367.8" y="586.51" font-size="9.2" text-anchor="end" fill="#222" textLength="4.71" lengthAdjust="spacingAndGlyphs">0</text>
<line x1="368.6" y1="562.08" x2="370.4" y2="562.08" stroke="#777" stroke-width="1"/>
<text x="367.8" y="565.39" font-size="9.2" text-anchor="end" fill="#222" textLength="9.41" lengthAdjust="spacingAndGlyphs">50</text>
<line x1="368.6" y1="540.95" x2="370.4" y2="540.95" stroke="#777" stroke-width="1"/>
<text x="367.8" y="544.26" font-size="9.2" text-anchor="end" fill="#222" textLength="14.12" lengthAdjust="spacingAndGlyphs">100</text>
<line x1="368.6" y1="519.83" x2="370.4" y2="519.83" stroke="#777" stroke-width="1"/>
<text x="367.8" y="523.14" font-size="9.2" text-anchor="end" fill="#222" textLength="14.12" lengthAdjust="spacingAndGlyphs">150</text>
<line x1="368.6" y1="498.7" x2="370.4" y2="498.7" stroke="#777" stroke-width="1"/>
<text x="367.8" y="502.01" font-size="9.2" text-anchor="end" fill="#222" textLength="14.12" lengthAdjust="spacingAndGlyphs">200</text>
<line x1="369.8" y1="583.2" x2="431.5" y2="583.2" stroke="#555" stroke-width="1.4"/>
<line x1="385.85" y1="527.3" x2="385.85" y2="520.8" stroke="#000" stroke-width="1.2"/>
<line x1="380.95" y1="521.4" x2="390.75" y2="521.4" stroke="#000" stroke-width="1.7"/>
<rect x="375.6" y="527.3" width="20.5" height="55.9" fill="#000"/>
<line x1="385.85" y1="583.2" x2="385.85" y2="585.4" stroke="#bbb" stroke-width="0.8"/>
<line x1="416.3" y1="511.5" x2="416.3" y2="510.6" stroke="#000" stroke-width="1.2"/>
<line x1="411.4" y1="511.2" x2="421.2" y2="511.2" stroke="#000" stroke-width="1.7"/>
<rect x="406.55" y="512" width="19.5" height="71.2" fill="#a3a3a3" stroke="#3a3a3a" stroke-width="1.1"/>
<line x1="406" y1="512.4" x2="426.6" y2="512.4" stroke="#000" stroke-width="1.8"/>
<line x1="416.3" y1="583.2" x2="416.3" y2="585.4" stroke="#bbb" stroke-width="0.8"/>
<text x="386.35" y="595.58" font-size="10.23" text-anchor="middle" fill="#111" textLength="24.81" lengthAdjust="spacingAndGlyphs">PEO1</text>
<text x="419.4" y="595.58" font-size="10.23" text-anchor="middle" fill="#111" textLength="24.81" lengthAdjust="spacingAndGlyphs">PEO4</text>
<text x="407.7" y="491.55" font-size="8.2" text-anchor="middle" fill="#111" textLength="48.05" lengthAdjust="spacingAndGlyphs">Glyc Capacity</text>
<polygon points="417,502.95 417.56,504.43 419.14,504.5 417.9,505.49 418.32,507.02 417,506.15 415.68,507.02 416.1,505.49 414.86,504.5 416.44,504.43" fill="#1a1a1a"/>
<text transform="translate(347.6 544.7) rotate(-90)" x="0" y="3.35" font-size="9.3" text-anchor="middle" fill="#111" textLength="79" lengthAdjust="spacingAndGlyphs">ECAR (mpH/min)</text>
<line x1="474.4" y1="498.7" x2="474.4" y2="583.2" stroke="#7a7a7a" stroke-width="1.2"/>
<line x1="472.6" y1="583.2" x2="474.4" y2="583.2" stroke="#777" stroke-width="1"/>
<text x="471.4" y="586.66" font-size="9.6" text-anchor="end" fill="#222" textLength="5.34" lengthAdjust="spacingAndGlyphs">0</text>
<line x1="472.6" y1="566.3" x2="474.4" y2="566.3" stroke="#777" stroke-width="1"/>
<text x="471.4" y="569.76" font-size="9.6" text-anchor="end" fill="#222" textLength="10.68" lengthAdjust="spacingAndGlyphs">10</text>
<line x1="472.6" y1="549.4" x2="474.4" y2="549.4" stroke="#777" stroke-width="1"/>
<text x="471.4" y="552.86" font-size="9.6" text-anchor="end" fill="#222" textLength="10.68" lengthAdjust="spacingAndGlyphs">20</text>
<line x1="472.6" y1="532.5" x2="474.4" y2="532.5" stroke="#777" stroke-width="1"/>
<text x="471.4" y="535.96" font-size="9.6" text-anchor="end" fill="#222" textLength="10.68" lengthAdjust="spacingAndGlyphs">30</text>
<line x1="472.6" y1="515.6" x2="474.4" y2="515.6" stroke="#777" stroke-width="1"/>
<text x="471.4" y="519.06" font-size="9.6" text-anchor="end" fill="#222" textLength="10.68" lengthAdjust="spacingAndGlyphs">40</text>
<line x1="472.6" y1="498.7" x2="474.4" y2="498.7" stroke="#777" stroke-width="1"/>
<text x="471.4" y="502.16" font-size="9.6" text-anchor="end" fill="#222" textLength="10.68" lengthAdjust="spacingAndGlyphs">50</text>
<line x1="473.8" y1="583.2" x2="535.4" y2="583.2" stroke="#555" stroke-width="1.4"/>
<line x1="489.95" y1="562.8" x2="489.95" y2="561.4" stroke="#000" stroke-width="1.2"/>
<line x1="485.05" y1="562" x2="494.85" y2="562" stroke="#000" stroke-width="1.7"/>
<rect x="479.8" y="562.8" width="20.3" height="20.4" fill="#000"/>
<line x1="489.95" y1="583.2" x2="489.95" y2="585.4" stroke="#bbb" stroke-width="0.8"/>
<line x1="520.15" y1="517.3" x2="520.15" y2="514.2" stroke="#000" stroke-width="1.2"/>
<line x1="515.25" y1="514.8" x2="525.05" y2="514.8" stroke="#000" stroke-width="1.7"/>
<rect x="510.55" y="517.8" width="19.2" height="65.4" fill="#a3a3a3" stroke="#3a3a3a" stroke-width="1.1"/>
<line x1="510" y1="518.2" x2="530.3" y2="518.2" stroke="#000" stroke-width="1.8"/>
<line x1="520.15" y1="583.2" x2="520.15" y2="585.4" stroke="#bbb" stroke-width="0.8"/>
<text x="489.55" y="595.54" font-size="10.12" text-anchor="middle" fill="#111" textLength="24.55" lengthAdjust="spacingAndGlyphs">PEO1</text>
<text x="522.05" y="595.54" font-size="10.12" text-anchor="middle" fill="#111" textLength="24.55" lengthAdjust="spacingAndGlyphs">PEO4</text>
<text x="511.7" y="491.55" font-size="8.2" text-anchor="middle" fill="#111" textLength="46.75" lengthAdjust="spacingAndGlyphs">Glyc Reserve</text>
<polygon points="514,506.05 514.56,507.53 516.14,507.6 514.9,508.59 515.32,510.12 514,509.25 512.68,510.12 513.1,508.59 511.86,507.6 513.44,507.53" fill="#1a1a1a"/>
<polygon points="519,506.05 519.56,507.53 521.14,507.6 519.9,508.59 520.32,510.12 519,509.25 517.68,510.12 518.1,508.59 516.86,507.6 518.44,507.53" fill="#1a1a1a"/>
<polygon points="524,506.05 524.56,507.53 526.14,507.6 524.9,508.59 525.32,510.12 524,509.25 522.68,510.12 523.1,508.59 521.86,507.6 523.44,507.53" fill="#1a1a1a"/>
<text transform="translate(453.9 544.7) rotate(-90)" x="0" y="3.35" font-size="9.3" text-anchor="middle" fill="#111" textLength="79" lengthAdjust="spacingAndGlyphs">ECAR (mpH/min)</text>
<text x="561.5" y="166.5" font-size="12.2" text-anchor="start" fill="#000" textLength="9.5" lengthAdjust="spacingAndGlyphs">E.</text>
<line x1="633.3" y1="176.4" x2="633.3" y2="258.3" stroke="#999" stroke-width="0.85" stroke-dasharray="1.5,1.5"/>
<line x1="584.5" y1="216.9" x2="681.4" y2="216.9" stroke="#999" stroke-width="0.85" stroke-dasharray="1.5,1.5"/>
<line x1="584.5" y1="176.4" x2="584.5" y2="258.3" stroke="#666" stroke-width="1.5"/>
<line x1="583.8" y1="258.3" x2="681.4" y2="258.3" stroke="#666" stroke-width="1.5"/>
<line x1="582" y1="258.3" x2="584.5" y2="258.3" stroke="#666" stroke-width="1.1"/>
<text x="581.9" y="261.65" font-size="9.3" text-anchor="end" fill="#333" textLength="4.55" lengthAdjust="spacingAndGlyphs">0</text>
<line x1="582" y1="231" x2="584.5" y2="231" stroke="#666" stroke-width="1.1"/>
<text x="581.9" y="234.35" font-size="9.3" text-anchor="end" fill="#333" textLength="9.1" lengthAdjust="spacingAndGlyphs">50</text>
<line x1="582" y1="203.7" x2="584.5" y2="203.7" stroke="#666" stroke-width="1.1"/>
<text x="581.9" y="207.05" font-size="9.3" text-anchor="end" fill="#333" textLength="13.65" lengthAdjust="spacingAndGlyphs">100</text>
<line x1="582" y1="176.4" x2="584.5" y2="176.4" stroke="#666" stroke-width="1.1"/>
<text x="581.9" y="179.75" font-size="9.3" text-anchor="end" fill="#333" textLength="13.65" lengthAdjust="spacingAndGlyphs">150</text>
<line x1="584.5" y1="258.3" x2="584.5" y2="260.8" stroke="#666" stroke-width="1.1"/>
<text x="584.5" y="269.91" font-size="9.2" text-anchor="middle" fill="#333" textLength="4.5" lengthAdjust="spacingAndGlyphs">0</text>
<line x1="608.73" y1="258.3" x2="608.73" y2="260.8" stroke="#666" stroke-width="1.1"/>
<text x="608.73" y="270.41" font-size="9.2" text-anchor="middle" fill="#333" textLength="9" lengthAdjust="spacingAndGlyphs">20</text>
<line x1="632.95" y1="258.3" x2="632.95" y2="260.8" stroke="#666" stroke-width="1.1"/>
<text x="632.95" y="269.21" font-size="9.2" text-anchor="middle" fill="#333" textLength="9" lengthAdjust="spacingAndGlyphs">40</text>
<line x1="657.17" y1="258.3" x2="657.17" y2="260.8" stroke="#666" stroke-width="1.1"/>
<text x="657.17" y="269.81" font-size="9.2" text-anchor="middle" fill="#333" textLength="9" lengthAdjust="spacingAndGlyphs">60</text>
<line x1="681.4" y1="258.3" x2="681.4" y2="260.8" stroke="#666" stroke-width="1.1"/>
<text x="681.4" y="268.81" font-size="9.2" text-anchor="middle" fill="#333" textLength="9" lengthAdjust="spacingAndGlyphs">80</text>
<text x="642.5" y="280.98" font-size="10.5" text-anchor="middle" fill="#222" textLength="79.2" lengthAdjust="spacingAndGlyphs">ECAR (mpH/min)</text>
<text transform="translate(563.2 221.2) rotate(-90)" x="0" y="3.38" font-size="9.4" text-anchor="middle" fill="#222" textLength="79.3" lengthAdjust="spacingAndGlyphs">OCR (pMoles/min)</text>
<text x="587.9" y="178.52" font-size="10.6" text-anchor="start" fill="#000" textLength="37" lengthAdjust="spacingAndGlyphs">ox phos</text>
<text x="638.8" y="177.32" font-size="10.6" text-anchor="start" fill="#000" textLength="52.7" lengthAdjust="spacingAndGlyphs">high metab</text>
<text x="591.8" y="228.22" font-size="10.6" text-anchor="start" fill="#000" textLength="16" lengthAdjust="spacingAndGlyphs">low</text>
<text x="591.8" y="240.82" font-size="10.6" text-anchor="start" fill="#000" textLength="29.5" lengthAdjust="spacingAndGlyphs">metab</text>
<text x="638.8" y="228.32" font-size="10.6" text-anchor="start" fill="#000" textLength="43.1" lengthAdjust="spacingAndGlyphs">glycolytic</text>
<line x1="667.3" y1="185.6" x2="672.7" y2="185.6" stroke="#000" stroke-width="1.3"/>
<line x1="667.3" y1="184.2" x2="667.3" y2="187" stroke="#000" stroke-width="1.1"/>
<line x1="672.7" y1="184.2" x2="672.7" y2="187" stroke="#000" stroke-width="1.1"/>
<line x1="669.8" y1="182.2" x2="669.8" y2="188.7" stroke="#000" stroke-width="1.3"/>
<line x1="668.4" y1="182.2" x2="671.2" y2="182.2" stroke="#000" stroke-width="1.1"/>
<line x1="668.4" y1="188.7" x2="671.2" y2="188.7" stroke="#000" stroke-width="1.1"/>
<circle cx="669.8" cy="185.6" r="1.9" fill="#000"/>
<text x="671" y="196.75" font-size="6.8" text-anchor="middle" fill="#333" textLength="15.78" lengthAdjust="spacingAndGlyphs">C200</text>
<line x1="627.4" y1="237.1" x2="644.4" y2="237.1" stroke="#000" stroke-width="1.3"/>
<line x1="627.4" y1="235.7" x2="627.4" y2="238.5" stroke="#000" stroke-width="1.1"/>
<line x1="644.4" y1="235.7" x2="644.4" y2="238.5" stroke="#000" stroke-width="1.1"/>
<line x1="635.2" y1="233.5" x2="635.2" y2="240.7" stroke="#000" stroke-width="1.3"/>
<line x1="633.8" y1="233.5" x2="636.6" y2="233.5" stroke="#000" stroke-width="1.1"/>
<line x1="633.8" y1="240.7" x2="636.6" y2="240.7" stroke="#000" stroke-width="1.1"/>
<circle cx="635.2" cy="237.1" r="1.9" fill="#000"/>
<text x="645.5" y="248.05" font-size="6.8" text-anchor="middle" fill="#333" textLength="19.08" lengthAdjust="spacingAndGlyphs">A2780</text>
<text x="566" y="491.5" font-size="12.2" text-anchor="start" fill="#000" textLength="8" lengthAdjust="spacingAndGlyphs">J.</text>
<line x1="638.5" y1="501.6" x2="638.5" y2="583.3" stroke="#999" stroke-width="0.85" stroke-dasharray="1.5,1.5"/>
<line x1="590.3" y1="542.3" x2="686.5" y2="542.3" stroke="#999" stroke-width="0.85" stroke-dasharray="1.5,1.5"/>
<line x1="590.3" y1="501.6" x2="590.3" y2="583.3" stroke="#555" stroke-width="1.5"/>
<line x1="589.6" y1="583.3" x2="686.5" y2="583.3" stroke="#555" stroke-width="1.5"/>
<line x1="587.8" y1="583.3" x2="590.3" y2="583.3" stroke="#555" stroke-width="1.1"/>
<text x="588.6" y="586.97" font-size="10.2" text-anchor="end" fill="#333" textLength="5.5" lengthAdjust="spacingAndGlyphs">0</text>
<line x1="587.8" y1="566.96" x2="590.3" y2="566.96" stroke="#555" stroke-width="1.1"/>
<text x="588.6" y="570.63" font-size="10.2" text-anchor="end" fill="#333" textLength="11" lengthAdjust="spacingAndGlyphs">10</text>
<line x1="587.8" y1="550.62" x2="590.3" y2="550.62" stroke="#555" stroke-width="1.1"/>
<text x="588.6" y="554.29" font-size="10.2" text-anchor="end" fill="#333" textLength="11" lengthAdjust="spacingAndGlyphs">20</text>
<line x1="587.8" y1="534.28" x2="590.3" y2="534.28" stroke="#555" stroke-width="1.1"/>
<text x="588.6" y="537.95" font-size="10.2" text-anchor="end" fill="#333" textLength="11" lengthAdjust="spacingAndGlyphs">30</text>
<line x1="587.8" y1="517.94" x2="590.3" y2="517.94" stroke="#555" stroke-width="1.1"/>
<text x="588.6" y="521.61" font-size="10.2" text-anchor="end" fill="#333" textLength="11" lengthAdjust="spacingAndGlyphs">40</text>
<line x1="587.8" y1="501.6" x2="590.3" y2="501.6" stroke="#555" stroke-width="1.1"/>
<text x="588.6" y="505.27" font-size="10.2" text-anchor="end" fill="#333" textLength="11" lengthAdjust="spacingAndGlyphs">50</text>
<line x1="590.3" y1="583.3" x2="590.3" y2="585.8" stroke="#555" stroke-width="1.1"/>
<text x="590.3" y="596.33" font-size="9.8" text-anchor="middle" fill="#333" textLength="5.01" lengthAdjust="spacingAndGlyphs">0</text>
<line x1="614.35" y1="583.3" x2="614.35" y2="585.8" stroke="#555" stroke-width="1.1"/>
<text x="614.35" y="595.93" font-size="9.8" text-anchor="middle" fill="#333" textLength="10.03" lengthAdjust="spacingAndGlyphs">10</text>
<line x1="638.4" y1="583.3" x2="638.4" y2="585.8" stroke="#555" stroke-width="1.1"/>
<text x="638.4" y="595.93" font-size="9.8" text-anchor="middle" fill="#333" textLength="10.03" lengthAdjust="spacingAndGlyphs">20</text>
<line x1="662.45" y1="583.3" x2="662.45" y2="585.8" stroke="#555" stroke-width="1.1"/>
<text x="662.45" y="595.93" font-size="9.8" text-anchor="middle" fill="#333" textLength="10.03" lengthAdjust="spacingAndGlyphs">30</text>
<line x1="686.5" y1="583.3" x2="686.5" y2="585.8" stroke="#555" stroke-width="1.1"/>
<text x="686.5" y="595.93" font-size="9.8" text-anchor="middle" fill="#333" textLength="10.03" lengthAdjust="spacingAndGlyphs">40</text>
<text x="643" y="605.78" font-size="10.5" text-anchor="middle" fill="#222" textLength="78.8" lengthAdjust="spacingAndGlyphs">ECAR (mpH/min)</text>
<text transform="translate(572 546.2) rotate(-90)" x="0" y="3.38" font-size="9.4" text-anchor="middle" fill="#222" textLength="79.3" lengthAdjust="spacingAndGlyphs">OCR (pMoles/min)</text>
<text x="593.3" y="506.42" font-size="10.6" text-anchor="start" fill="#000" textLength="36.2" lengthAdjust="spacingAndGlyphs">ox phos</text>
<text x="646" y="506.12" font-size="10.6" text-anchor="start" fill="#000" textLength="52" lengthAdjust="spacingAndGlyphs">high metab</text>
<text x="592.9" y="552.42" font-size="10.6" text-anchor="start" fill="#000" textLength="16" lengthAdjust="spacingAndGlyphs">low</text>
<text x="592.9" y="565.42" font-size="10.6" text-anchor="start" fill="#000" textLength="29" lengthAdjust="spacingAndGlyphs">metab</text>
<text x="646.8" y="552.82" font-size="10.6" text-anchor="start" fill="#000" textLength="43.1" lengthAdjust="spacingAndGlyphs">glycolytic</text>
<line x1="664.9" y1="516.4" x2="664.9" y2="533.1" stroke="#000" stroke-width="1.3"/>
<line x1="663.5" y1="516.4" x2="666.3" y2="516.4" stroke="#000" stroke-width="1.1"/>
<line x1="663.5" y1="533.1" x2="666.3" y2="533.1" stroke="#000" stroke-width="1.1"/>
<circle cx="664.9" cy="524.8" r="1.9" fill="#000"/>
<text x="678.5" y="533.35" font-size="6.8" text-anchor="middle" fill="#333" textLength="17.61" lengthAdjust="spacingAndGlyphs">PEO4</text>
<line x1="668.6" y1="565.7" x2="676.3" y2="565.7" stroke="#000" stroke-width="1.3"/>
<line x1="668.6" y1="564.3" x2="668.6" y2="567.1" stroke="#000" stroke-width="1.1"/>
<line x1="676.3" y1="564.3" x2="676.3" y2="567.1" stroke="#000" stroke-width="1.1"/>
<line x1="672.7" y1="563.3" x2="672.7" y2="568.2" stroke="#000" stroke-width="1.3"/>
<line x1="671.3" y1="563.3" x2="674.1" y2="563.3" stroke="#000" stroke-width="1.1"/>
<line x1="671.3" y1="568.2" x2="674.1" y2="568.2" stroke="#000" stroke-width="1.1"/>
<circle cx="672.7" cy="565.7" r="1.9" fill="#000"/>
<text x="671.7" y="576.35" font-size="6.8" text-anchor="middle" fill="#333" textLength="17.61" lengthAdjust="spacingAndGlyphs">PEO1</text>
</svg></body></html>
